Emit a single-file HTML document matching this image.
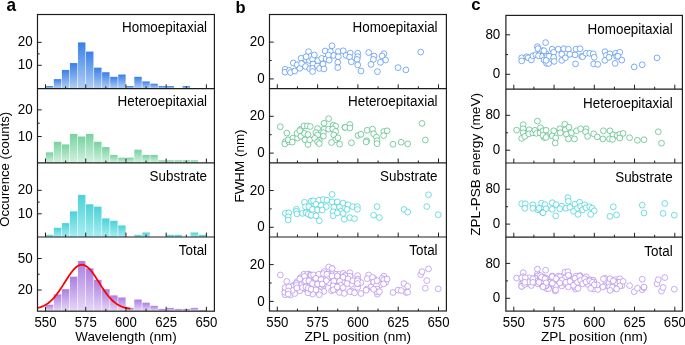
<!DOCTYPE html>
<html><head><meta charset="utf-8"><style>
html,body{margin:0;padding:0;background:#fff;}
body{width:685px;height:345px;overflow:hidden;}
svg{display:block;will-change:transform;}
</style></head><body>
<svg width="685" height="345" viewBox="0 0 685 345" font-family='"Liberation Sans", sans-serif'>
<defs><linearGradient id="g_homo" x1="0" y1="0" x2="0" y2="1"><stop offset="0" stop-color="#3a80e8"/><stop offset="1" stop-color="#b0cdf6"/></linearGradient><linearGradient id="g_hetero" x1="0" y1="0" x2="0" y2="1"><stop offset="0" stop-color="#78d2a0"/><stop offset="1" stop-color="#d2f2e0"/></linearGradient><linearGradient id="g_sub" x1="0" y1="0" x2="0" y2="1"><stop offset="0" stop-color="#4cd2d8"/><stop offset="1" stop-color="#a8eef2"/></linearGradient><linearGradient id="g_total" x1="0" y1="0" x2="0" y2="1"><stop offset="0" stop-color="#ab7ee3"/><stop offset="1" stop-color="#e6d8f7"/></linearGradient></defs>
<rect width="685" height="345" fill="#fff"/>
<rect x="45.80" y="86.00" width="7.45" height="2.30" fill="url(#g_homo)"/>
<rect x="53.84" y="79.12" width="7.45" height="9.18" fill="url(#g_homo)"/>
<rect x="61.89" y="69.94" width="7.44" height="18.36" fill="url(#g_homo)"/>
<rect x="69.93" y="63.05" width="7.45" height="25.24" fill="url(#g_homo)"/>
<rect x="77.98" y="42.40" width="7.44" height="45.90" fill="url(#g_homo)"/>
<rect x="86.02" y="51.58" width="7.45" height="36.72" fill="url(#g_homo)"/>
<rect x="94.07" y="67.64" width="7.45" height="20.66" fill="url(#g_homo)"/>
<rect x="102.11" y="72.23" width="7.45" height="16.06" fill="url(#g_homo)"/>
<rect x="110.16" y="76.83" width="7.45" height="11.47" fill="url(#g_homo)"/>
<rect x="118.20" y="74.53" width="7.45" height="13.77" fill="url(#g_homo)"/>
<rect x="126.25" y="86.00" width="7.45" height="2.30" fill="url(#g_homo)"/>
<rect x="134.30" y="76.83" width="7.44" height="11.47" fill="url(#g_homo)"/>
<rect x="142.34" y="81.41" width="7.44" height="6.89" fill="url(#g_homo)"/>
<rect x="150.38" y="83.71" width="7.45" height="4.59" fill="url(#g_homo)"/>
<rect x="158.43" y="86.00" width="7.45" height="2.30" fill="url(#g_homo)"/>
<rect x="166.48" y="86.00" width="7.44" height="2.30" fill="url(#g_homo)"/>
<rect x="182.56" y="86.00" width="7.45" height="2.30" fill="url(#g_homo)"/>
<rect x="45.80" y="152.34" width="7.45" height="10.56" fill="url(#g_hetero)"/>
<rect x="53.84" y="141.78" width="7.45" height="21.12" fill="url(#g_hetero)"/>
<rect x="61.89" y="144.42" width="7.44" height="18.48" fill="url(#g_hetero)"/>
<rect x="69.93" y="133.86" width="7.45" height="29.04" fill="url(#g_hetero)"/>
<rect x="77.98" y="136.50" width="7.44" height="26.40" fill="url(#g_hetero)"/>
<rect x="86.02" y="133.86" width="7.45" height="29.04" fill="url(#g_hetero)"/>
<rect x="94.07" y="141.78" width="7.45" height="21.12" fill="url(#g_hetero)"/>
<rect x="102.11" y="147.06" width="7.45" height="15.84" fill="url(#g_hetero)"/>
<rect x="110.16" y="154.98" width="7.45" height="7.92" fill="url(#g_hetero)"/>
<rect x="118.20" y="157.62" width="7.45" height="5.28" fill="url(#g_hetero)"/>
<rect x="126.25" y="157.62" width="7.45" height="5.28" fill="url(#g_hetero)"/>
<rect x="134.30" y="149.70" width="7.44" height="13.20" fill="url(#g_hetero)"/>
<rect x="142.34" y="154.98" width="7.44" height="7.92" fill="url(#g_hetero)"/>
<rect x="150.38" y="154.98" width="7.45" height="7.92" fill="url(#g_hetero)"/>
<rect x="158.43" y="160.26" width="7.45" height="2.64" fill="url(#g_hetero)"/>
<rect x="166.48" y="160.26" width="7.44" height="2.64" fill="url(#g_hetero)"/>
<rect x="174.52" y="160.26" width="7.44" height="2.64" fill="url(#g_hetero)"/>
<rect x="182.56" y="160.26" width="7.45" height="2.64" fill="url(#g_hetero)"/>
<rect x="190.61" y="160.26" width="7.44" height="2.64" fill="url(#g_hetero)"/>
<rect x="45.80" y="234.85" width="7.45" height="2.35" fill="url(#g_sub)"/>
<rect x="53.84" y="227.80" width="7.45" height="9.40" fill="url(#g_sub)"/>
<rect x="61.89" y="223.10" width="7.44" height="14.10" fill="url(#g_sub)"/>
<rect x="69.93" y="211.35" width="7.45" height="25.85" fill="url(#g_sub)"/>
<rect x="77.98" y="194.90" width="7.44" height="42.30" fill="url(#g_sub)"/>
<rect x="86.02" y="204.30" width="7.45" height="32.90" fill="url(#g_sub)"/>
<rect x="94.07" y="206.65" width="7.45" height="30.55" fill="url(#g_sub)"/>
<rect x="102.11" y="218.40" width="7.45" height="18.80" fill="url(#g_sub)"/>
<rect x="110.16" y="220.75" width="7.45" height="16.45" fill="url(#g_sub)"/>
<rect x="118.20" y="225.45" width="7.45" height="11.75" fill="url(#g_sub)"/>
<rect x="134.30" y="234.85" width="7.44" height="2.35" fill="url(#g_sub)"/>
<rect x="142.34" y="232.50" width="7.44" height="4.70" fill="url(#g_sub)"/>
<rect x="166.48" y="234.85" width="7.44" height="2.35" fill="url(#g_sub)"/>
<rect x="174.52" y="234.85" width="7.44" height="2.35" fill="url(#g_sub)"/>
<rect x="190.61" y="232.50" width="7.44" height="4.70" fill="url(#g_sub)"/>
<rect x="198.66" y="234.85" width="7.45" height="2.35" fill="url(#g_sub)"/>
<rect x="45.80" y="304.76" width="7.45" height="6.24" fill="url(#g_total)"/>
<rect x="53.84" y="294.36" width="7.45" height="16.64" fill="url(#g_total)"/>
<rect x="61.89" y="289.16" width="7.44" height="21.84" fill="url(#g_total)"/>
<rect x="69.93" y="276.68" width="7.45" height="34.32" fill="url(#g_total)"/>
<rect x="77.98" y="261.08" width="7.44" height="49.92" fill="url(#g_total)"/>
<rect x="86.02" y="268.36" width="7.45" height="42.64" fill="url(#g_total)"/>
<rect x="94.07" y="279.80" width="7.45" height="31.20" fill="url(#g_total)"/>
<rect x="102.11" y="289.16" width="7.45" height="21.84" fill="url(#g_total)"/>
<rect x="110.16" y="295.40" width="7.45" height="15.60" fill="url(#g_total)"/>
<rect x="118.20" y="297.48" width="7.45" height="13.52" fill="url(#g_total)"/>
<rect x="126.25" y="307.88" width="7.45" height="3.12" fill="url(#g_total)"/>
<rect x="134.30" y="299.56" width="7.44" height="11.44" fill="url(#g_total)"/>
<rect x="142.34" y="302.68" width="7.44" height="8.32" fill="url(#g_total)"/>
<rect x="150.38" y="305.80" width="7.45" height="5.20" fill="url(#g_total)"/>
<rect x="158.43" y="308.92" width="7.45" height="2.08" fill="url(#g_total)"/>
<rect x="166.48" y="307.88" width="7.44" height="3.12" fill="url(#g_total)"/>
<rect x="174.52" y="308.92" width="7.44" height="2.08" fill="url(#g_total)"/>
<rect x="182.56" y="308.92" width="7.45" height="2.08" fill="url(#g_total)"/>
<rect x="190.61" y="307.88" width="7.44" height="3.12" fill="url(#g_total)"/>
<rect x="198.66" y="309.96" width="7.45" height="1.04" fill="url(#g_total)"/>
<polyline points="37.13,308.00 37.94,307.82 38.74,307.61 39.55,307.38 40.35,307.13 41.16,306.85 41.96,306.54 42.76,306.21 43.57,305.84 44.37,305.45 45.18,305.02 45.98,304.55 46.79,304.04 47.59,303.50 48.40,302.92 49.20,302.29 50.01,301.63 50.81,300.92 51.61,300.16 52.42,299.36 53.22,298.52 54.03,297.63 54.83,296.70 55.64,295.73 56.44,294.72 57.25,293.66 58.05,292.57 58.85,291.44 59.66,290.28 60.46,289.09 61.27,287.87 62.07,286.63 62.88,285.37 63.68,284.10 64.49,282.83 65.29,281.55 66.10,280.27 66.90,279.01 67.70,277.76 68.51,276.53 69.31,275.33 70.12,274.16 70.92,273.04 71.73,271.96 72.53,270.94 73.34,269.97 74.14,269.08 74.94,268.25 75.75,267.50 76.55,266.84 77.36,266.25 78.16,265.76 78.97,265.36 79.77,265.06 80.58,264.85 81.38,264.74 82.19,264.73 82.99,264.82 83.79,265.01 84.60,265.29 85.40,265.67 86.21,266.15 87.01,266.71 87.82,267.36 88.62,268.10 89.43,268.91 90.23,269.79 91.03,270.74 91.84,271.75 92.64,272.82 93.45,273.93 94.25,275.09 95.06,276.28 95.86,277.51 96.67,278.75 97.47,280.02 98.28,281.29 99.08,282.57 99.88,283.85 100.69,285.12 101.49,286.38 102.30,287.62 103.10,288.84 103.91,290.04 104.71,291.21 105.52,292.34 106.32,293.44 107.12,294.51 107.93,295.53 108.73,296.51 109.54,297.45 110.34,298.35 111.15,299.20 111.95,300.01 112.76,300.77 113.56,301.49 114.37,302.16 115.17,302.80 115.97,303.39 116.78,303.94 117.58,304.45 118.39,304.93 119.19,305.36 120.00,305.77 120.80,306.14 121.61,306.48 122.41,306.79 123.21,307.07 124.02,307.33 124.82,307.57 125.63,307.78 126.43,307.97 127.24,308.14 128.04,308.30 128.85,308.43 129.65,308.56 130.46,308.67" fill="none" stroke="#f00" stroke-width="1.8" stroke-linejoin="round"/>
<circle cx="285.20" cy="69.30" r="2.9" fill="#fff" stroke="#4c8df0" stroke-width="0.72"/>
<circle cx="285.00" cy="72.20" r="2.9" fill="#fff" stroke="#4c8df0" stroke-width="0.72"/>
<circle cx="289.40" cy="70.40" r="2.9" fill="#fff" stroke="#4c8df0" stroke-width="0.72"/>
<circle cx="290.50" cy="72.50" r="2.9" fill="#fff" stroke="#4c8df0" stroke-width="0.72"/>
<circle cx="294.80" cy="71.00" r="2.9" fill="#fff" stroke="#4c8df0" stroke-width="0.72"/>
<circle cx="293.30" cy="63.00" r="2.9" fill="#fff" stroke="#4c8df0" stroke-width="0.72"/>
<circle cx="297.20" cy="64.80" r="2.9" fill="#fff" stroke="#4c8df0" stroke-width="0.72"/>
<circle cx="299.80" cy="68.30" r="2.9" fill="#fff" stroke="#4c8df0" stroke-width="0.72"/>
<circle cx="301.10" cy="58.30" r="2.9" fill="#fff" stroke="#4c8df0" stroke-width="0.72"/>
<circle cx="301.60" cy="63.50" r="2.9" fill="#fff" stroke="#4c8df0" stroke-width="0.72"/>
<circle cx="305.50" cy="66.50" r="2.9" fill="#fff" stroke="#4c8df0" stroke-width="0.72"/>
<circle cx="305.90" cy="59.60" r="2.9" fill="#fff" stroke="#4c8df0" stroke-width="0.72"/>
<circle cx="308.50" cy="51.70" r="2.9" fill="#fff" stroke="#4c8df0" stroke-width="0.72"/>
<circle cx="309.40" cy="60.40" r="2.9" fill="#fff" stroke="#4c8df0" stroke-width="0.72"/>
<circle cx="309.80" cy="68.70" r="2.9" fill="#fff" stroke="#4c8df0" stroke-width="0.72"/>
<circle cx="310.30" cy="56.50" r="2.9" fill="#fff" stroke="#4c8df0" stroke-width="0.72"/>
<circle cx="306.10" cy="56.70" r="2.9" fill="#fff" stroke="#4c8df0" stroke-width="0.72"/>
<circle cx="312.60" cy="59.30" r="2.9" fill="#fff" stroke="#4c8df0" stroke-width="0.72"/>
<circle cx="314.30" cy="55.00" r="2.9" fill="#fff" stroke="#4c8df0" stroke-width="0.72"/>
<circle cx="313.00" cy="64.10" r="2.9" fill="#fff" stroke="#4c8df0" stroke-width="0.72"/>
<circle cx="312.60" cy="68.40" r="2.9" fill="#fff" stroke="#4c8df0" stroke-width="0.72"/>
<circle cx="312.60" cy="71.50" r="2.9" fill="#fff" stroke="#4c8df0" stroke-width="0.72"/>
<circle cx="317.40" cy="65.80" r="2.9" fill="#fff" stroke="#4c8df0" stroke-width="0.72"/>
<circle cx="317.80" cy="60.60" r="2.9" fill="#fff" stroke="#4c8df0" stroke-width="0.72"/>
<circle cx="319.60" cy="68.40" r="2.9" fill="#fff" stroke="#4c8df0" stroke-width="0.72"/>
<circle cx="321.70" cy="58.40" r="2.9" fill="#fff" stroke="#4c8df0" stroke-width="0.72"/>
<circle cx="323.00" cy="64.10" r="2.9" fill="#fff" stroke="#4c8df0" stroke-width="0.72"/>
<circle cx="323.90" cy="68.90" r="2.9" fill="#fff" stroke="#4c8df0" stroke-width="0.72"/>
<circle cx="325.20" cy="51.00" r="2.9" fill="#fff" stroke="#4c8df0" stroke-width="0.72"/>
<circle cx="326.10" cy="58.90" r="2.9" fill="#fff" stroke="#4c8df0" stroke-width="0.72"/>
<circle cx="329.10" cy="60.20" r="2.9" fill="#fff" stroke="#4c8df0" stroke-width="0.72"/>
<circle cx="330.40" cy="51.50" r="2.9" fill="#fff" stroke="#4c8df0" stroke-width="0.72"/>
<circle cx="333.50" cy="55.40" r="2.9" fill="#fff" stroke="#4c8df0" stroke-width="0.72"/>
<circle cx="338.30" cy="51.50" r="2.9" fill="#fff" stroke="#4c8df0" stroke-width="0.72"/>
<circle cx="338.30" cy="56.70" r="2.9" fill="#fff" stroke="#4c8df0" stroke-width="0.72"/>
<circle cx="337.80" cy="62.30" r="2.9" fill="#fff" stroke="#4c8df0" stroke-width="0.72"/>
<circle cx="337.80" cy="67.60" r="2.9" fill="#fff" stroke="#4c8df0" stroke-width="0.72"/>
<circle cx="328.30" cy="55.00" r="2.9" fill="#fff" stroke="#4c8df0" stroke-width="0.72"/>
<circle cx="332.00" cy="45.80" r="2.9" fill="#fff" stroke="#4c8df0" stroke-width="0.72"/>
<circle cx="343.20" cy="50.80" r="2.9" fill="#fff" stroke="#4c8df0" stroke-width="0.72"/>
<circle cx="346.10" cy="55.40" r="2.9" fill="#fff" stroke="#4c8df0" stroke-width="0.72"/>
<circle cx="350.20" cy="53.10" r="2.9" fill="#fff" stroke="#4c8df0" stroke-width="0.72"/>
<circle cx="349.60" cy="57.10" r="2.9" fill="#fff" stroke="#4c8df0" stroke-width="0.72"/>
<circle cx="351.30" cy="61.80" r="2.9" fill="#fff" stroke="#4c8df0" stroke-width="0.72"/>
<circle cx="357.70" cy="53.10" r="2.9" fill="#fff" stroke="#4c8df0" stroke-width="0.72"/>
<circle cx="357.70" cy="56.60" r="2.9" fill="#fff" stroke="#4c8df0" stroke-width="0.72"/>
<circle cx="357.10" cy="59.40" r="2.9" fill="#fff" stroke="#4c8df0" stroke-width="0.72"/>
<circle cx="357.70" cy="64.90" r="2.9" fill="#fff" stroke="#4c8df0" stroke-width="0.72"/>
<circle cx="361.00" cy="71.00" r="2.9" fill="#fff" stroke="#4c8df0" stroke-width="0.72"/>
<circle cx="368.70" cy="52.50" r="2.9" fill="#fff" stroke="#4c8df0" stroke-width="0.72"/>
<circle cx="374.00" cy="56.00" r="2.9" fill="#fff" stroke="#4c8df0" stroke-width="0.72"/>
<circle cx="373.40" cy="59.40" r="2.9" fill="#fff" stroke="#4c8df0" stroke-width="0.72"/>
<circle cx="371.00" cy="64.40" r="2.9" fill="#fff" stroke="#4c8df0" stroke-width="0.72"/>
<circle cx="377.40" cy="71.60" r="2.9" fill="#fff" stroke="#4c8df0" stroke-width="0.72"/>
<circle cx="383.90" cy="53.70" r="2.9" fill="#fff" stroke="#4c8df0" stroke-width="0.72"/>
<circle cx="382.10" cy="56.00" r="2.9" fill="#fff" stroke="#4c8df0" stroke-width="0.72"/>
<circle cx="385.60" cy="60.00" r="2.9" fill="#fff" stroke="#4c8df0" stroke-width="0.72"/>
<circle cx="380.40" cy="62.30" r="2.9" fill="#fff" stroke="#4c8df0" stroke-width="0.72"/>
<circle cx="398.00" cy="67.60" r="2.9" fill="#fff" stroke="#4c8df0" stroke-width="0.72"/>
<circle cx="405.90" cy="69.90" r="2.9" fill="#fff" stroke="#4c8df0" stroke-width="0.72"/>
<circle cx="420.70" cy="52.10" r="2.9" fill="#fff" stroke="#4c8df0" stroke-width="0.72"/>
<circle cx="521.70" cy="57.80" r="2.9" fill="#fff" stroke="#4c8df0" stroke-width="0.72"/>
<circle cx="521.70" cy="60.90" r="2.9" fill="#fff" stroke="#4c8df0" stroke-width="0.72"/>
<circle cx="526.80" cy="56.80" r="2.9" fill="#fff" stroke="#4c8df0" stroke-width="0.72"/>
<circle cx="528.30" cy="57.80" r="2.9" fill="#fff" stroke="#4c8df0" stroke-width="0.72"/>
<circle cx="531.40" cy="59.90" r="2.9" fill="#fff" stroke="#4c8df0" stroke-width="0.72"/>
<circle cx="532.90" cy="55.80" r="2.9" fill="#fff" stroke="#4c8df0" stroke-width="0.72"/>
<circle cx="535.90" cy="54.80" r="2.9" fill="#fff" stroke="#4c8df0" stroke-width="0.72"/>
<circle cx="537.40" cy="46.70" r="2.9" fill="#fff" stroke="#4c8df0" stroke-width="0.72"/>
<circle cx="538.00" cy="48.70" r="2.9" fill="#fff" stroke="#4c8df0" stroke-width="0.72"/>
<circle cx="538.50" cy="55.80" r="2.9" fill="#fff" stroke="#4c8df0" stroke-width="0.72"/>
<circle cx="542.50" cy="50.70" r="2.9" fill="#fff" stroke="#4c8df0" stroke-width="0.72"/>
<circle cx="542.50" cy="56.30" r="2.9" fill="#fff" stroke="#4c8df0" stroke-width="0.72"/>
<circle cx="544.00" cy="59.90" r="2.9" fill="#fff" stroke="#4c8df0" stroke-width="0.72"/>
<circle cx="545.60" cy="42.60" r="2.9" fill="#fff" stroke="#4c8df0" stroke-width="0.72"/>
<circle cx="546.10" cy="53.80" r="2.9" fill="#fff" stroke="#4c8df0" stroke-width="0.72"/>
<circle cx="546.60" cy="63.40" r="2.9" fill="#fff" stroke="#4c8df0" stroke-width="0.72"/>
<circle cx="547.10" cy="56.30" r="2.9" fill="#fff" stroke="#4c8df0" stroke-width="0.72"/>
<circle cx="544.00" cy="50.70" r="2.9" fill="#fff" stroke="#4c8df0" stroke-width="0.72"/>
<circle cx="549.10" cy="56.30" r="2.9" fill="#fff" stroke="#4c8df0" stroke-width="0.72"/>
<circle cx="548.60" cy="63.40" r="2.9" fill="#fff" stroke="#4c8df0" stroke-width="0.72"/>
<circle cx="546.10" cy="60.40" r="2.9" fill="#fff" stroke="#4c8df0" stroke-width="0.72"/>
<circle cx="552.20" cy="49.20" r="2.9" fill="#fff" stroke="#4c8df0" stroke-width="0.72"/>
<circle cx="553.70" cy="52.20" r="2.9" fill="#fff" stroke="#4c8df0" stroke-width="0.72"/>
<circle cx="553.70" cy="57.30" r="2.9" fill="#fff" stroke="#4c8df0" stroke-width="0.72"/>
<circle cx="554.20" cy="61.40" r="2.9" fill="#fff" stroke="#4c8df0" stroke-width="0.72"/>
<circle cx="558.20" cy="49.20" r="2.9" fill="#fff" stroke="#4c8df0" stroke-width="0.72"/>
<circle cx="561.80" cy="54.30" r="2.9" fill="#fff" stroke="#4c8df0" stroke-width="0.72"/>
<circle cx="561.80" cy="60.40" r="2.9" fill="#fff" stroke="#4c8df0" stroke-width="0.72"/>
<circle cx="563.80" cy="48.70" r="2.9" fill="#fff" stroke="#4c8df0" stroke-width="0.72"/>
<circle cx="565.40" cy="57.80" r="2.9" fill="#fff" stroke="#4c8df0" stroke-width="0.72"/>
<circle cx="568.40" cy="49.20" r="2.9" fill="#fff" stroke="#4c8df0" stroke-width="0.72"/>
<circle cx="569.90" cy="54.30" r="2.9" fill="#fff" stroke="#4c8df0" stroke-width="0.72"/>
<circle cx="575.00" cy="54.80" r="2.9" fill="#fff" stroke="#4c8df0" stroke-width="0.72"/>
<circle cx="576.00" cy="49.20" r="2.9" fill="#fff" stroke="#4c8df0" stroke-width="0.72"/>
<circle cx="575.50" cy="63.90" r="2.9" fill="#fff" stroke="#4c8df0" stroke-width="0.72"/>
<circle cx="580.10" cy="48.70" r="2.9" fill="#fff" stroke="#4c8df0" stroke-width="0.72"/>
<circle cx="581.60" cy="56.30" r="2.9" fill="#fff" stroke="#4c8df0" stroke-width="0.72"/>
<circle cx="582.60" cy="56.80" r="2.9" fill="#fff" stroke="#4c8df0" stroke-width="0.72"/>
<circle cx="586.10" cy="53.30" r="2.9" fill="#fff" stroke="#4c8df0" stroke-width="0.72"/>
<circle cx="589.70" cy="53.30" r="2.9" fill="#fff" stroke="#4c8df0" stroke-width="0.72"/>
<circle cx="593.20" cy="53.80" r="2.9" fill="#fff" stroke="#4c8df0" stroke-width="0.72"/>
<circle cx="594.20" cy="57.30" r="2.9" fill="#fff" stroke="#4c8df0" stroke-width="0.72"/>
<circle cx="593.70" cy="63.90" r="2.9" fill="#fff" stroke="#4c8df0" stroke-width="0.72"/>
<circle cx="597.80" cy="64.40" r="2.9" fill="#fff" stroke="#4c8df0" stroke-width="0.72"/>
<circle cx="604.90" cy="51.70" r="2.9" fill="#fff" stroke="#4c8df0" stroke-width="0.72"/>
<circle cx="606.40" cy="55.30" r="2.9" fill="#fff" stroke="#4c8df0" stroke-width="0.72"/>
<circle cx="604.90" cy="60.40" r="2.9" fill="#fff" stroke="#4c8df0" stroke-width="0.72"/>
<circle cx="610.00" cy="53.80" r="2.9" fill="#fff" stroke="#4c8df0" stroke-width="0.72"/>
<circle cx="609.00" cy="57.30" r="2.9" fill="#fff" stroke="#4c8df0" stroke-width="0.72"/>
<circle cx="615.60" cy="53.30" r="2.9" fill="#fff" stroke="#4c8df0" stroke-width="0.72"/>
<circle cx="616.60" cy="56.30" r="2.9" fill="#fff" stroke="#4c8df0" stroke-width="0.72"/>
<circle cx="615.10" cy="63.40" r="2.9" fill="#fff" stroke="#4c8df0" stroke-width="0.72"/>
<circle cx="619.80" cy="52.30" r="2.9" fill="#fff" stroke="#4c8df0" stroke-width="0.72"/>
<circle cx="617.90" cy="56.20" r="2.9" fill="#fff" stroke="#4c8df0" stroke-width="0.72"/>
<circle cx="621.80" cy="60.10" r="2.9" fill="#fff" stroke="#4c8df0" stroke-width="0.72"/>
<circle cx="634.20" cy="66.90" r="2.9" fill="#fff" stroke="#4c8df0" stroke-width="0.72"/>
<circle cx="642.20" cy="64.70" r="2.9" fill="#fff" stroke="#4c8df0" stroke-width="0.72"/>
<circle cx="657.00" cy="57.90" r="2.9" fill="#fff" stroke="#4c8df0" stroke-width="0.72"/>
<circle cx="280.30" cy="126.70" r="2.9" fill="#fff" stroke="#4dba80" stroke-width="0.72"/>
<circle cx="286.80" cy="133.10" r="2.9" fill="#fff" stroke="#4dba80" stroke-width="0.72"/>
<circle cx="285.30" cy="141.60" r="2.9" fill="#fff" stroke="#4dba80" stroke-width="0.72"/>
<circle cx="284.80" cy="143.90" r="2.9" fill="#fff" stroke="#4dba80" stroke-width="0.72"/>
<circle cx="288.80" cy="141.60" r="2.9" fill="#fff" stroke="#4dba80" stroke-width="0.72"/>
<circle cx="288.20" cy="139.80" r="2.9" fill="#fff" stroke="#4dba80" stroke-width="0.72"/>
<circle cx="292.90" cy="138.10" r="2.9" fill="#fff" stroke="#4dba80" stroke-width="0.72"/>
<circle cx="292.30" cy="142.10" r="2.9" fill="#fff" stroke="#4dba80" stroke-width="0.72"/>
<circle cx="297.50" cy="138.10" r="2.9" fill="#fff" stroke="#4dba80" stroke-width="0.72"/>
<circle cx="297.00" cy="133.40" r="2.9" fill="#fff" stroke="#4dba80" stroke-width="0.72"/>
<circle cx="300.40" cy="129.40" r="2.9" fill="#fff" stroke="#4dba80" stroke-width="0.72"/>
<circle cx="301.00" cy="136.30" r="2.9" fill="#fff" stroke="#4dba80" stroke-width="0.72"/>
<circle cx="303.90" cy="125.90" r="2.9" fill="#fff" stroke="#4dba80" stroke-width="0.72"/>
<circle cx="304.50" cy="133.40" r="2.9" fill="#fff" stroke="#4dba80" stroke-width="0.72"/>
<circle cx="305.00" cy="139.80" r="2.9" fill="#fff" stroke="#4dba80" stroke-width="0.72"/>
<circle cx="307.40" cy="125.90" r="2.9" fill="#fff" stroke="#4dba80" stroke-width="0.72"/>
<circle cx="308.00" cy="134.60" r="2.9" fill="#fff" stroke="#4dba80" stroke-width="0.72"/>
<circle cx="308.00" cy="144.50" r="2.9" fill="#fff" stroke="#4dba80" stroke-width="0.72"/>
<circle cx="310.30" cy="126.50" r="2.9" fill="#fff" stroke="#4dba80" stroke-width="0.72"/>
<circle cx="309.70" cy="139.80" r="2.9" fill="#fff" stroke="#4dba80" stroke-width="0.72"/>
<circle cx="299.80" cy="130.60" r="2.9" fill="#fff" stroke="#4dba80" stroke-width="0.72"/>
<circle cx="328.60" cy="118.70" r="2.9" fill="#fff" stroke="#4dba80" stroke-width="0.72"/>
<circle cx="324.00" cy="123.30" r="2.9" fill="#fff" stroke="#4dba80" stroke-width="0.72"/>
<circle cx="333.20" cy="125.10" r="2.9" fill="#fff" stroke="#4dba80" stroke-width="0.72"/>
<circle cx="335.60" cy="126.20" r="2.9" fill="#fff" stroke="#4dba80" stroke-width="0.72"/>
<circle cx="317.60" cy="128.60" r="2.9" fill="#fff" stroke="#4dba80" stroke-width="0.72"/>
<circle cx="324.00" cy="129.10" r="2.9" fill="#fff" stroke="#4dba80" stroke-width="0.72"/>
<circle cx="328.60" cy="129.10" r="2.9" fill="#fff" stroke="#4dba80" stroke-width="0.72"/>
<circle cx="332.70" cy="129.10" r="2.9" fill="#fff" stroke="#4dba80" stroke-width="0.72"/>
<circle cx="315.90" cy="132.60" r="2.9" fill="#fff" stroke="#4dba80" stroke-width="0.72"/>
<circle cx="323.40" cy="132.60" r="2.9" fill="#fff" stroke="#4dba80" stroke-width="0.72"/>
<circle cx="335.60" cy="131.40" r="2.9" fill="#fff" stroke="#4dba80" stroke-width="0.72"/>
<circle cx="317.60" cy="134.90" r="2.9" fill="#fff" stroke="#4dba80" stroke-width="0.72"/>
<circle cx="323.40" cy="136.10" r="2.9" fill="#fff" stroke="#4dba80" stroke-width="0.72"/>
<circle cx="333.80" cy="134.90" r="2.9" fill="#fff" stroke="#4dba80" stroke-width="0.72"/>
<circle cx="314.70" cy="138.40" r="2.9" fill="#fff" stroke="#4dba80" stroke-width="0.72"/>
<circle cx="319.30" cy="140.40" r="2.9" fill="#fff" stroke="#4dba80" stroke-width="0.72"/>
<circle cx="317.60" cy="141.90" r="2.9" fill="#fff" stroke="#4dba80" stroke-width="0.72"/>
<circle cx="335.60" cy="139.60" r="2.9" fill="#fff" stroke="#4dba80" stroke-width="0.72"/>
<circle cx="331.50" cy="142.50" r="2.9" fill="#fff" stroke="#4dba80" stroke-width="0.72"/>
<circle cx="337.90" cy="137.80" r="2.9" fill="#fff" stroke="#4dba80" stroke-width="0.72"/>
<circle cx="339.60" cy="144.20" r="2.9" fill="#fff" stroke="#4dba80" stroke-width="0.72"/>
<circle cx="319.30" cy="143.60" r="2.9" fill="#fff" stroke="#4dba80" stroke-width="0.72"/>
<circle cx="344.80" cy="127.40" r="2.9" fill="#fff" stroke="#4dba80" stroke-width="0.72"/>
<circle cx="349.90" cy="124.50" r="2.9" fill="#fff" stroke="#4dba80" stroke-width="0.72"/>
<circle cx="345.20" cy="127.40" r="2.9" fill="#fff" stroke="#4dba80" stroke-width="0.72"/>
<circle cx="349.90" cy="128.00" r="2.9" fill="#fff" stroke="#4dba80" stroke-width="0.72"/>
<circle cx="367.20" cy="130.30" r="2.9" fill="#fff" stroke="#4dba80" stroke-width="0.72"/>
<circle cx="372.50" cy="129.10" r="2.9" fill="#fff" stroke="#4dba80" stroke-width="0.72"/>
<circle cx="373.60" cy="133.80" r="2.9" fill="#fff" stroke="#4dba80" stroke-width="0.72"/>
<circle cx="358.00" cy="135.50" r="2.9" fill="#fff" stroke="#4dba80" stroke-width="0.72"/>
<circle cx="360.90" cy="134.30" r="2.9" fill="#fff" stroke="#4dba80" stroke-width="0.72"/>
<circle cx="376.50" cy="137.20" r="2.9" fill="#fff" stroke="#4dba80" stroke-width="0.72"/>
<circle cx="377.10" cy="140.70" r="2.9" fill="#fff" stroke="#4dba80" stroke-width="0.72"/>
<circle cx="377.10" cy="143.60" r="2.9" fill="#fff" stroke="#4dba80" stroke-width="0.72"/>
<circle cx="366.70" cy="140.70" r="2.9" fill="#fff" stroke="#4dba80" stroke-width="0.72"/>
<circle cx="366.10" cy="141.90" r="2.9" fill="#fff" stroke="#4dba80" stroke-width="0.72"/>
<circle cx="351.40" cy="142.80" r="2.9" fill="#fff" stroke="#4dba80" stroke-width="0.72"/>
<circle cx="383.80" cy="131.50" r="2.9" fill="#fff" stroke="#4dba80" stroke-width="0.72"/>
<circle cx="387.10" cy="130.80" r="2.9" fill="#fff" stroke="#4dba80" stroke-width="0.72"/>
<circle cx="383.60" cy="135.60" r="2.9" fill="#fff" stroke="#4dba80" stroke-width="0.72"/>
<circle cx="393.00" cy="144.20" r="2.9" fill="#fff" stroke="#4dba80" stroke-width="0.72"/>
<circle cx="401.20" cy="142.20" r="2.9" fill="#fff" stroke="#4dba80" stroke-width="0.72"/>
<circle cx="407.70" cy="143.90" r="2.9" fill="#fff" stroke="#4dba80" stroke-width="0.72"/>
<circle cx="422.00" cy="123.40" r="2.9" fill="#fff" stroke="#4dba80" stroke-width="0.72"/>
<circle cx="425.30" cy="140.00" r="2.9" fill="#fff" stroke="#4dba80" stroke-width="0.72"/>
<circle cx="516.60" cy="130.10" r="2.9" fill="#fff" stroke="#4dba80" stroke-width="0.72"/>
<circle cx="523.20" cy="124.70" r="2.9" fill="#fff" stroke="#4dba80" stroke-width="0.72"/>
<circle cx="523.20" cy="128.80" r="2.9" fill="#fff" stroke="#4dba80" stroke-width="0.72"/>
<circle cx="523.20" cy="132.80" r="2.9" fill="#fff" stroke="#4dba80" stroke-width="0.72"/>
<circle cx="521.70" cy="138.40" r="2.9" fill="#fff" stroke="#4dba80" stroke-width="0.72"/>
<circle cx="524.80" cy="136.40" r="2.9" fill="#fff" stroke="#4dba80" stroke-width="0.72"/>
<circle cx="529.30" cy="129.80" r="2.9" fill="#fff" stroke="#4dba80" stroke-width="0.72"/>
<circle cx="528.80" cy="133.80" r="2.9" fill="#fff" stroke="#4dba80" stroke-width="0.72"/>
<circle cx="532.90" cy="132.80" r="2.9" fill="#fff" stroke="#4dba80" stroke-width="0.72"/>
<circle cx="534.90" cy="130.30" r="2.9" fill="#fff" stroke="#4dba80" stroke-width="0.72"/>
<circle cx="537.40" cy="121.10" r="2.9" fill="#fff" stroke="#4dba80" stroke-width="0.72"/>
<circle cx="536.40" cy="133.30" r="2.9" fill="#fff" stroke="#4dba80" stroke-width="0.72"/>
<circle cx="540.50" cy="127.70" r="2.9" fill="#fff" stroke="#4dba80" stroke-width="0.72"/>
<circle cx="540.00" cy="132.80" r="2.9" fill="#fff" stroke="#4dba80" stroke-width="0.72"/>
<circle cx="543.00" cy="130.80" r="2.9" fill="#fff" stroke="#4dba80" stroke-width="0.72"/>
<circle cx="544.00" cy="137.40" r="2.9" fill="#fff" stroke="#4dba80" stroke-width="0.72"/>
<circle cx="546.10" cy="130.30" r="2.9" fill="#fff" stroke="#4dba80" stroke-width="0.72"/>
<circle cx="546.60" cy="135.90" r="2.9" fill="#fff" stroke="#4dba80" stroke-width="0.72"/>
<circle cx="543.00" cy="135.40" r="2.9" fill="#fff" stroke="#4dba80" stroke-width="0.72"/>
<circle cx="546.10" cy="137.40" r="2.9" fill="#fff" stroke="#4dba80" stroke-width="0.72"/>
<circle cx="553.70" cy="130.80" r="2.9" fill="#fff" stroke="#4dba80" stroke-width="0.72"/>
<circle cx="552.20" cy="135.90" r="2.9" fill="#fff" stroke="#4dba80" stroke-width="0.72"/>
<circle cx="555.70" cy="137.90" r="2.9" fill="#fff" stroke="#4dba80" stroke-width="0.72"/>
<circle cx="555.20" cy="143.00" r="2.9" fill="#fff" stroke="#4dba80" stroke-width="0.72"/>
<circle cx="559.80" cy="128.80" r="2.9" fill="#fff" stroke="#4dba80" stroke-width="0.72"/>
<circle cx="560.30" cy="132.80" r="2.9" fill="#fff" stroke="#4dba80" stroke-width="0.72"/>
<circle cx="564.80" cy="124.20" r="2.9" fill="#fff" stroke="#4dba80" stroke-width="0.72"/>
<circle cx="565.40" cy="129.80" r="2.9" fill="#fff" stroke="#4dba80" stroke-width="0.72"/>
<circle cx="566.40" cy="134.30" r="2.9" fill="#fff" stroke="#4dba80" stroke-width="0.72"/>
<circle cx="568.90" cy="127.20" r="2.9" fill="#fff" stroke="#4dba80" stroke-width="0.72"/>
<circle cx="571.40" cy="132.80" r="2.9" fill="#fff" stroke="#4dba80" stroke-width="0.72"/>
<circle cx="568.40" cy="138.90" r="2.9" fill="#fff" stroke="#4dba80" stroke-width="0.72"/>
<circle cx="574.50" cy="138.90" r="2.9" fill="#fff" stroke="#4dba80" stroke-width="0.72"/>
<circle cx="576.50" cy="130.80" r="2.9" fill="#fff" stroke="#4dba80" stroke-width="0.72"/>
<circle cx="580.60" cy="128.80" r="2.9" fill="#fff" stroke="#4dba80" stroke-width="0.72"/>
<circle cx="586.10" cy="128.80" r="2.9" fill="#fff" stroke="#4dba80" stroke-width="0.72"/>
<circle cx="585.60" cy="131.80" r="2.9" fill="#fff" stroke="#4dba80" stroke-width="0.72"/>
<circle cx="587.60" cy="136.40" r="2.9" fill="#fff" stroke="#4dba80" stroke-width="0.72"/>
<circle cx="593.70" cy="133.80" r="2.9" fill="#fff" stroke="#4dba80" stroke-width="0.72"/>
<circle cx="597.30" cy="136.90" r="2.9" fill="#fff" stroke="#4dba80" stroke-width="0.72"/>
<circle cx="603.40" cy="130.80" r="2.9" fill="#fff" stroke="#4dba80" stroke-width="0.72"/>
<circle cx="602.90" cy="138.90" r="2.9" fill="#fff" stroke="#4dba80" stroke-width="0.72"/>
<circle cx="610.00" cy="130.80" r="2.9" fill="#fff" stroke="#4dba80" stroke-width="0.72"/>
<circle cx="613.00" cy="134.80" r="2.9" fill="#fff" stroke="#4dba80" stroke-width="0.72"/>
<circle cx="609.50" cy="138.90" r="2.9" fill="#fff" stroke="#4dba80" stroke-width="0.72"/>
<circle cx="612.50" cy="139.40" r="2.9" fill="#fff" stroke="#4dba80" stroke-width="0.72"/>
<circle cx="617.10" cy="135.40" r="2.9" fill="#fff" stroke="#4dba80" stroke-width="0.72"/>
<circle cx="619.80" cy="134.10" r="2.9" fill="#fff" stroke="#4dba80" stroke-width="0.72"/>
<circle cx="623.10" cy="133.40" r="2.9" fill="#fff" stroke="#4dba80" stroke-width="0.72"/>
<circle cx="619.80" cy="138.00" r="2.9" fill="#fff" stroke="#4dba80" stroke-width="0.72"/>
<circle cx="629.60" cy="137.70" r="2.9" fill="#fff" stroke="#4dba80" stroke-width="0.72"/>
<circle cx="637.40" cy="140.30" r="2.9" fill="#fff" stroke="#4dba80" stroke-width="0.72"/>
<circle cx="644.00" cy="139.70" r="2.9" fill="#fff" stroke="#4dba80" stroke-width="0.72"/>
<circle cx="658.30" cy="131.70" r="2.9" fill="#fff" stroke="#4dba80" stroke-width="0.72"/>
<circle cx="661.50" cy="143.20" r="2.9" fill="#fff" stroke="#4dba80" stroke-width="0.72"/>
<circle cx="285.20" cy="213.40" r="2.9" fill="#fff" stroke="#3ccfd6" stroke-width="0.72"/>
<circle cx="288.80" cy="212.80" r="2.9" fill="#fff" stroke="#3ccfd6" stroke-width="0.72"/>
<circle cx="288.20" cy="216.90" r="2.9" fill="#fff" stroke="#3ccfd6" stroke-width="0.72"/>
<circle cx="288.20" cy="220.00" r="2.9" fill="#fff" stroke="#3ccfd6" stroke-width="0.72"/>
<circle cx="296.40" cy="209.30" r="2.9" fill="#fff" stroke="#3ccfd6" stroke-width="0.72"/>
<circle cx="296.40" cy="211.30" r="2.9" fill="#fff" stroke="#3ccfd6" stroke-width="0.72"/>
<circle cx="296.90" cy="213.90" r="2.9" fill="#fff" stroke="#3ccfd6" stroke-width="0.72"/>
<circle cx="302.50" cy="213.40" r="2.9" fill="#fff" stroke="#3ccfd6" stroke-width="0.72"/>
<circle cx="304.50" cy="202.20" r="2.9" fill="#fff" stroke="#3ccfd6" stroke-width="0.72"/>
<circle cx="305.50" cy="206.80" r="2.9" fill="#fff" stroke="#3ccfd6" stroke-width="0.72"/>
<circle cx="306.00" cy="212.80" r="2.9" fill="#fff" stroke="#3ccfd6" stroke-width="0.72"/>
<circle cx="309.60" cy="207.30" r="2.9" fill="#fff" stroke="#3ccfd6" stroke-width="0.72"/>
<circle cx="310.60" cy="215.40" r="2.9" fill="#fff" stroke="#3ccfd6" stroke-width="0.72"/>
<circle cx="311.10" cy="201.20" r="2.9" fill="#fff" stroke="#3ccfd6" stroke-width="0.72"/>
<circle cx="332.10" cy="194.40" r="2.9" fill="#fff" stroke="#3ccfd6" stroke-width="0.72"/>
<circle cx="313.50" cy="200.80" r="2.9" fill="#fff" stroke="#3ccfd6" stroke-width="0.72"/>
<circle cx="318.80" cy="200.20" r="2.9" fill="#fff" stroke="#3ccfd6" stroke-width="0.72"/>
<circle cx="323.40" cy="199.60" r="2.9" fill="#fff" stroke="#3ccfd6" stroke-width="0.72"/>
<circle cx="326.90" cy="200.20" r="2.9" fill="#fff" stroke="#3ccfd6" stroke-width="0.72"/>
<circle cx="332.10" cy="201.90" r="2.9" fill="#fff" stroke="#3ccfd6" stroke-width="0.72"/>
<circle cx="337.30" cy="201.90" r="2.9" fill="#fff" stroke="#3ccfd6" stroke-width="0.72"/>
<circle cx="343.10" cy="203.10" r="2.9" fill="#fff" stroke="#3ccfd6" stroke-width="0.72"/>
<circle cx="315.90" cy="204.20" r="2.9" fill="#fff" stroke="#3ccfd6" stroke-width="0.72"/>
<circle cx="321.10" cy="205.40" r="2.9" fill="#fff" stroke="#3ccfd6" stroke-width="0.72"/>
<circle cx="308.90" cy="206.60" r="2.9" fill="#fff" stroke="#3ccfd6" stroke-width="0.72"/>
<circle cx="326.30" cy="206.60" r="2.9" fill="#fff" stroke="#3ccfd6" stroke-width="0.72"/>
<circle cx="333.80" cy="207.10" r="2.9" fill="#fff" stroke="#3ccfd6" stroke-width="0.72"/>
<circle cx="339.60" cy="207.10" r="2.9" fill="#fff" stroke="#3ccfd6" stroke-width="0.72"/>
<circle cx="312.40" cy="209.40" r="2.9" fill="#fff" stroke="#3ccfd6" stroke-width="0.72"/>
<circle cx="317.60" cy="210.00" r="2.9" fill="#fff" stroke="#3ccfd6" stroke-width="0.72"/>
<circle cx="322.20" cy="210.00" r="2.9" fill="#fff" stroke="#3ccfd6" stroke-width="0.72"/>
<circle cx="333.20" cy="211.80" r="2.9" fill="#fff" stroke="#3ccfd6" stroke-width="0.72"/>
<circle cx="340.80" cy="211.20" r="2.9" fill="#fff" stroke="#3ccfd6" stroke-width="0.72"/>
<circle cx="308.30" cy="214.10" r="2.9" fill="#fff" stroke="#3ccfd6" stroke-width="0.72"/>
<circle cx="311.20" cy="215.20" r="2.9" fill="#fff" stroke="#3ccfd6" stroke-width="0.72"/>
<circle cx="315.90" cy="215.80" r="2.9" fill="#fff" stroke="#3ccfd6" stroke-width="0.72"/>
<circle cx="333.20" cy="215.80" r="2.9" fill="#fff" stroke="#3ccfd6" stroke-width="0.72"/>
<circle cx="337.30" cy="212.90" r="2.9" fill="#fff" stroke="#3ccfd6" stroke-width="0.72"/>
<circle cx="343.10" cy="213.50" r="2.9" fill="#fff" stroke="#3ccfd6" stroke-width="0.72"/>
<circle cx="319.30" cy="220.70" r="2.9" fill="#fff" stroke="#3ccfd6" stroke-width="0.72"/>
<circle cx="344.30" cy="219.30" r="2.9" fill="#fff" stroke="#3ccfd6" stroke-width="0.72"/>
<circle cx="348.10" cy="204.80" r="2.9" fill="#fff" stroke="#3ccfd6" stroke-width="0.72"/>
<circle cx="352.80" cy="206.60" r="2.9" fill="#fff" stroke="#3ccfd6" stroke-width="0.72"/>
<circle cx="357.40" cy="206.60" r="2.9" fill="#fff" stroke="#3ccfd6" stroke-width="0.72"/>
<circle cx="357.40" cy="209.40" r="2.9" fill="#fff" stroke="#3ccfd6" stroke-width="0.72"/>
<circle cx="347.00" cy="209.40" r="2.9" fill="#fff" stroke="#3ccfd6" stroke-width="0.72"/>
<circle cx="349.90" cy="217.60" r="2.9" fill="#fff" stroke="#3ccfd6" stroke-width="0.72"/>
<circle cx="354.50" cy="218.70" r="2.9" fill="#fff" stroke="#3ccfd6" stroke-width="0.72"/>
<circle cx="377.10" cy="206.60" r="2.9" fill="#fff" stroke="#3ccfd6" stroke-width="0.72"/>
<circle cx="373.60" cy="215.20" r="2.9" fill="#fff" stroke="#3ccfd6" stroke-width="0.72"/>
<circle cx="379.40" cy="217.60" r="2.9" fill="#fff" stroke="#3ccfd6" stroke-width="0.72"/>
<circle cx="404.00" cy="209.50" r="2.9" fill="#fff" stroke="#3ccfd6" stroke-width="0.72"/>
<circle cx="407.70" cy="212.10" r="2.9" fill="#fff" stroke="#3ccfd6" stroke-width="0.72"/>
<circle cx="428.50" cy="194.80" r="2.9" fill="#fff" stroke="#3ccfd6" stroke-width="0.72"/>
<circle cx="426.80" cy="206.50" r="2.9" fill="#fff" stroke="#3ccfd6" stroke-width="0.72"/>
<circle cx="438.20" cy="214.70" r="2.9" fill="#fff" stroke="#3ccfd6" stroke-width="0.72"/>
<circle cx="521.70" cy="203.70" r="2.9" fill="#fff" stroke="#3ccfd6" stroke-width="0.72"/>
<circle cx="525.30" cy="203.70" r="2.9" fill="#fff" stroke="#3ccfd6" stroke-width="0.72"/>
<circle cx="524.80" cy="208.30" r="2.9" fill="#fff" stroke="#3ccfd6" stroke-width="0.72"/>
<circle cx="532.90" cy="204.70" r="2.9" fill="#fff" stroke="#3ccfd6" stroke-width="0.72"/>
<circle cx="532.90" cy="208.30" r="2.9" fill="#fff" stroke="#3ccfd6" stroke-width="0.72"/>
<circle cx="538.00" cy="209.80" r="2.9" fill="#fff" stroke="#3ccfd6" stroke-width="0.72"/>
<circle cx="541.50" cy="203.20" r="2.9" fill="#fff" stroke="#3ccfd6" stroke-width="0.72"/>
<circle cx="542.50" cy="212.30" r="2.9" fill="#fff" stroke="#3ccfd6" stroke-width="0.72"/>
<circle cx="545.00" cy="204.70" r="2.9" fill="#fff" stroke="#3ccfd6" stroke-width="0.72"/>
<circle cx="546.10" cy="208.80" r="2.9" fill="#fff" stroke="#3ccfd6" stroke-width="0.72"/>
<circle cx="539.00" cy="208.30" r="2.9" fill="#fff" stroke="#3ccfd6" stroke-width="0.72"/>
<circle cx="543.00" cy="212.80" r="2.9" fill="#fff" stroke="#3ccfd6" stroke-width="0.72"/>
<circle cx="552.20" cy="202.70" r="2.9" fill="#fff" stroke="#3ccfd6" stroke-width="0.72"/>
<circle cx="552.20" cy="209.30" r="2.9" fill="#fff" stroke="#3ccfd6" stroke-width="0.72"/>
<circle cx="556.20" cy="204.70" r="2.9" fill="#fff" stroke="#3ccfd6" stroke-width="0.72"/>
<circle cx="555.70" cy="215.90" r="2.9" fill="#fff" stroke="#3ccfd6" stroke-width="0.72"/>
<circle cx="561.80" cy="206.20" r="2.9" fill="#fff" stroke="#3ccfd6" stroke-width="0.72"/>
<circle cx="559.80" cy="208.80" r="2.9" fill="#fff" stroke="#3ccfd6" stroke-width="0.72"/>
<circle cx="565.90" cy="208.30" r="2.9" fill="#fff" stroke="#3ccfd6" stroke-width="0.72"/>
<circle cx="567.90" cy="197.60" r="2.9" fill="#fff" stroke="#3ccfd6" stroke-width="0.72"/>
<circle cx="568.40" cy="201.20" r="2.9" fill="#fff" stroke="#3ccfd6" stroke-width="0.72"/>
<circle cx="569.90" cy="207.30" r="2.9" fill="#fff" stroke="#3ccfd6" stroke-width="0.72"/>
<circle cx="573.50" cy="211.30" r="2.9" fill="#fff" stroke="#3ccfd6" stroke-width="0.72"/>
<circle cx="575.00" cy="204.20" r="2.9" fill="#fff" stroke="#3ccfd6" stroke-width="0.72"/>
<circle cx="577.50" cy="208.30" r="2.9" fill="#fff" stroke="#3ccfd6" stroke-width="0.72"/>
<circle cx="578.00" cy="214.40" r="2.9" fill="#fff" stroke="#3ccfd6" stroke-width="0.72"/>
<circle cx="579.60" cy="202.20" r="2.9" fill="#fff" stroke="#3ccfd6" stroke-width="0.72"/>
<circle cx="580.60" cy="206.20" r="2.9" fill="#fff" stroke="#3ccfd6" stroke-width="0.72"/>
<circle cx="584.60" cy="204.70" r="2.9" fill="#fff" stroke="#3ccfd6" stroke-width="0.72"/>
<circle cx="582.60" cy="209.80" r="2.9" fill="#fff" stroke="#3ccfd6" stroke-width="0.72"/>
<circle cx="586.10" cy="207.80" r="2.9" fill="#fff" stroke="#3ccfd6" stroke-width="0.72"/>
<circle cx="589.70" cy="206.80" r="2.9" fill="#fff" stroke="#3ccfd6" stroke-width="0.72"/>
<circle cx="592.20" cy="208.30" r="2.9" fill="#fff" stroke="#3ccfd6" stroke-width="0.72"/>
<circle cx="594.20" cy="210.80" r="2.9" fill="#fff" stroke="#3ccfd6" stroke-width="0.72"/>
<circle cx="590.70" cy="214.40" r="2.9" fill="#fff" stroke="#3ccfd6" stroke-width="0.72"/>
<circle cx="613.30" cy="206.80" r="2.9" fill="#fff" stroke="#3ccfd6" stroke-width="0.72"/>
<circle cx="610.00" cy="216.40" r="2.9" fill="#fff" stroke="#3ccfd6" stroke-width="0.72"/>
<circle cx="616.60" cy="214.90" r="2.9" fill="#fff" stroke="#3ccfd6" stroke-width="0.72"/>
<circle cx="642.20" cy="205.20" r="2.9" fill="#fff" stroke="#3ccfd6" stroke-width="0.72"/>
<circle cx="644.00" cy="213.00" r="2.9" fill="#fff" stroke="#3ccfd6" stroke-width="0.72"/>
<circle cx="664.80" cy="203.50" r="2.9" fill="#fff" stroke="#3ccfd6" stroke-width="0.72"/>
<circle cx="663.10" cy="213.40" r="2.9" fill="#fff" stroke="#3ccfd6" stroke-width="0.72"/>
<circle cx="674.30" cy="215.20" r="2.9" fill="#fff" stroke="#3ccfd6" stroke-width="0.72"/>
<circle cx="285.20" cy="291.80" r="2.9" fill="#fff" stroke="#b28cec" stroke-width="0.72"/>
<circle cx="285.00" cy="294.70" r="2.9" fill="#fff" stroke="#b28cec" stroke-width="0.72"/>
<circle cx="289.40" cy="292.90" r="2.9" fill="#fff" stroke="#b28cec" stroke-width="0.72"/>
<circle cx="290.50" cy="295.00" r="2.9" fill="#fff" stroke="#b28cec" stroke-width="0.72"/>
<circle cx="294.80" cy="293.50" r="2.9" fill="#fff" stroke="#b28cec" stroke-width="0.72"/>
<circle cx="293.30" cy="285.50" r="2.9" fill="#fff" stroke="#b28cec" stroke-width="0.72"/>
<circle cx="297.20" cy="287.30" r="2.9" fill="#fff" stroke="#b28cec" stroke-width="0.72"/>
<circle cx="299.80" cy="290.80" r="2.9" fill="#fff" stroke="#b28cec" stroke-width="0.72"/>
<circle cx="301.10" cy="280.80" r="2.9" fill="#fff" stroke="#b28cec" stroke-width="0.72"/>
<circle cx="301.60" cy="286.00" r="2.9" fill="#fff" stroke="#b28cec" stroke-width="0.72"/>
<circle cx="305.50" cy="289.00" r="2.9" fill="#fff" stroke="#b28cec" stroke-width="0.72"/>
<circle cx="305.90" cy="282.10" r="2.9" fill="#fff" stroke="#b28cec" stroke-width="0.72"/>
<circle cx="308.50" cy="274.20" r="2.9" fill="#fff" stroke="#b28cec" stroke-width="0.72"/>
<circle cx="309.40" cy="282.90" r="2.9" fill="#fff" stroke="#b28cec" stroke-width="0.72"/>
<circle cx="309.80" cy="291.20" r="2.9" fill="#fff" stroke="#b28cec" stroke-width="0.72"/>
<circle cx="310.30" cy="279.00" r="2.9" fill="#fff" stroke="#b28cec" stroke-width="0.72"/>
<circle cx="306.10" cy="279.20" r="2.9" fill="#fff" stroke="#b28cec" stroke-width="0.72"/>
<circle cx="312.60" cy="281.80" r="2.9" fill="#fff" stroke="#b28cec" stroke-width="0.72"/>
<circle cx="314.30" cy="277.50" r="2.9" fill="#fff" stroke="#b28cec" stroke-width="0.72"/>
<circle cx="313.00" cy="286.60" r="2.9" fill="#fff" stroke="#b28cec" stroke-width="0.72"/>
<circle cx="312.60" cy="290.90" r="2.9" fill="#fff" stroke="#b28cec" stroke-width="0.72"/>
<circle cx="312.60" cy="294.00" r="2.9" fill="#fff" stroke="#b28cec" stroke-width="0.72"/>
<circle cx="317.40" cy="288.30" r="2.9" fill="#fff" stroke="#b28cec" stroke-width="0.72"/>
<circle cx="317.80" cy="283.10" r="2.9" fill="#fff" stroke="#b28cec" stroke-width="0.72"/>
<circle cx="319.60" cy="290.90" r="2.9" fill="#fff" stroke="#b28cec" stroke-width="0.72"/>
<circle cx="321.70" cy="280.90" r="2.9" fill="#fff" stroke="#b28cec" stroke-width="0.72"/>
<circle cx="323.00" cy="286.60" r="2.9" fill="#fff" stroke="#b28cec" stroke-width="0.72"/>
<circle cx="323.90" cy="291.40" r="2.9" fill="#fff" stroke="#b28cec" stroke-width="0.72"/>
<circle cx="325.20" cy="273.50" r="2.9" fill="#fff" stroke="#b28cec" stroke-width="0.72"/>
<circle cx="326.10" cy="281.40" r="2.9" fill="#fff" stroke="#b28cec" stroke-width="0.72"/>
<circle cx="329.10" cy="282.70" r="2.9" fill="#fff" stroke="#b28cec" stroke-width="0.72"/>
<circle cx="330.40" cy="274.00" r="2.9" fill="#fff" stroke="#b28cec" stroke-width="0.72"/>
<circle cx="333.50" cy="277.90" r="2.9" fill="#fff" stroke="#b28cec" stroke-width="0.72"/>
<circle cx="338.30" cy="274.00" r="2.9" fill="#fff" stroke="#b28cec" stroke-width="0.72"/>
<circle cx="338.30" cy="279.20" r="2.9" fill="#fff" stroke="#b28cec" stroke-width="0.72"/>
<circle cx="337.80" cy="284.80" r="2.9" fill="#fff" stroke="#b28cec" stroke-width="0.72"/>
<circle cx="337.80" cy="290.10" r="2.9" fill="#fff" stroke="#b28cec" stroke-width="0.72"/>
<circle cx="328.30" cy="277.50" r="2.9" fill="#fff" stroke="#b28cec" stroke-width="0.72"/>
<circle cx="332.00" cy="268.30" r="2.9" fill="#fff" stroke="#b28cec" stroke-width="0.72"/>
<circle cx="343.20" cy="273.30" r="2.9" fill="#fff" stroke="#b28cec" stroke-width="0.72"/>
<circle cx="346.10" cy="277.90" r="2.9" fill="#fff" stroke="#b28cec" stroke-width="0.72"/>
<circle cx="350.20" cy="275.60" r="2.9" fill="#fff" stroke="#b28cec" stroke-width="0.72"/>
<circle cx="349.60" cy="279.60" r="2.9" fill="#fff" stroke="#b28cec" stroke-width="0.72"/>
<circle cx="351.30" cy="284.30" r="2.9" fill="#fff" stroke="#b28cec" stroke-width="0.72"/>
<circle cx="357.70" cy="275.60" r="2.9" fill="#fff" stroke="#b28cec" stroke-width="0.72"/>
<circle cx="357.70" cy="279.10" r="2.9" fill="#fff" stroke="#b28cec" stroke-width="0.72"/>
<circle cx="357.10" cy="281.90" r="2.9" fill="#fff" stroke="#b28cec" stroke-width="0.72"/>
<circle cx="357.70" cy="287.40" r="2.9" fill="#fff" stroke="#b28cec" stroke-width="0.72"/>
<circle cx="361.00" cy="293.50" r="2.9" fill="#fff" stroke="#b28cec" stroke-width="0.72"/>
<circle cx="368.70" cy="275.00" r="2.9" fill="#fff" stroke="#b28cec" stroke-width="0.72"/>
<circle cx="374.00" cy="278.50" r="2.9" fill="#fff" stroke="#b28cec" stroke-width="0.72"/>
<circle cx="373.40" cy="281.90" r="2.9" fill="#fff" stroke="#b28cec" stroke-width="0.72"/>
<circle cx="371.00" cy="286.90" r="2.9" fill="#fff" stroke="#b28cec" stroke-width="0.72"/>
<circle cx="377.40" cy="294.10" r="2.9" fill="#fff" stroke="#b28cec" stroke-width="0.72"/>
<circle cx="383.90" cy="276.20" r="2.9" fill="#fff" stroke="#b28cec" stroke-width="0.72"/>
<circle cx="382.10" cy="278.50" r="2.9" fill="#fff" stroke="#b28cec" stroke-width="0.72"/>
<circle cx="385.60" cy="282.50" r="2.9" fill="#fff" stroke="#b28cec" stroke-width="0.72"/>
<circle cx="380.40" cy="284.80" r="2.9" fill="#fff" stroke="#b28cec" stroke-width="0.72"/>
<circle cx="398.00" cy="290.10" r="2.9" fill="#fff" stroke="#b28cec" stroke-width="0.72"/>
<circle cx="405.90" cy="292.40" r="2.9" fill="#fff" stroke="#b28cec" stroke-width="0.72"/>
<circle cx="420.70" cy="274.60" r="2.9" fill="#fff" stroke="#b28cec" stroke-width="0.72"/>
<circle cx="280.30" cy="275.00" r="2.9" fill="#fff" stroke="#b28cec" stroke-width="0.72"/>
<circle cx="286.80" cy="281.40" r="2.9" fill="#fff" stroke="#b28cec" stroke-width="0.72"/>
<circle cx="285.30" cy="289.90" r="2.9" fill="#fff" stroke="#b28cec" stroke-width="0.72"/>
<circle cx="284.80" cy="292.20" r="2.9" fill="#fff" stroke="#b28cec" stroke-width="0.72"/>
<circle cx="288.80" cy="289.90" r="2.9" fill="#fff" stroke="#b28cec" stroke-width="0.72"/>
<circle cx="288.20" cy="288.10" r="2.9" fill="#fff" stroke="#b28cec" stroke-width="0.72"/>
<circle cx="292.90" cy="286.40" r="2.9" fill="#fff" stroke="#b28cec" stroke-width="0.72"/>
<circle cx="292.30" cy="290.40" r="2.9" fill="#fff" stroke="#b28cec" stroke-width="0.72"/>
<circle cx="297.50" cy="286.40" r="2.9" fill="#fff" stroke="#b28cec" stroke-width="0.72"/>
<circle cx="297.00" cy="281.70" r="2.9" fill="#fff" stroke="#b28cec" stroke-width="0.72"/>
<circle cx="300.40" cy="277.70" r="2.9" fill="#fff" stroke="#b28cec" stroke-width="0.72"/>
<circle cx="301.00" cy="284.60" r="2.9" fill="#fff" stroke="#b28cec" stroke-width="0.72"/>
<circle cx="303.90" cy="274.20" r="2.9" fill="#fff" stroke="#b28cec" stroke-width="0.72"/>
<circle cx="304.50" cy="281.70" r="2.9" fill="#fff" stroke="#b28cec" stroke-width="0.72"/>
<circle cx="305.00" cy="288.10" r="2.9" fill="#fff" stroke="#b28cec" stroke-width="0.72"/>
<circle cx="307.40" cy="274.20" r="2.9" fill="#fff" stroke="#b28cec" stroke-width="0.72"/>
<circle cx="308.00" cy="282.90" r="2.9" fill="#fff" stroke="#b28cec" stroke-width="0.72"/>
<circle cx="308.00" cy="292.80" r="2.9" fill="#fff" stroke="#b28cec" stroke-width="0.72"/>
<circle cx="310.30" cy="274.80" r="2.9" fill="#fff" stroke="#b28cec" stroke-width="0.72"/>
<circle cx="309.70" cy="288.10" r="2.9" fill="#fff" stroke="#b28cec" stroke-width="0.72"/>
<circle cx="299.80" cy="278.90" r="2.9" fill="#fff" stroke="#b28cec" stroke-width="0.72"/>
<circle cx="328.60" cy="267.00" r="2.9" fill="#fff" stroke="#b28cec" stroke-width="0.72"/>
<circle cx="324.00" cy="271.60" r="2.9" fill="#fff" stroke="#b28cec" stroke-width="0.72"/>
<circle cx="333.20" cy="273.40" r="2.9" fill="#fff" stroke="#b28cec" stroke-width="0.72"/>
<circle cx="335.60" cy="274.50" r="2.9" fill="#fff" stroke="#b28cec" stroke-width="0.72"/>
<circle cx="317.60" cy="276.90" r="2.9" fill="#fff" stroke="#b28cec" stroke-width="0.72"/>
<circle cx="324.00" cy="277.40" r="2.9" fill="#fff" stroke="#b28cec" stroke-width="0.72"/>
<circle cx="328.60" cy="277.40" r="2.9" fill="#fff" stroke="#b28cec" stroke-width="0.72"/>
<circle cx="332.70" cy="277.40" r="2.9" fill="#fff" stroke="#b28cec" stroke-width="0.72"/>
<circle cx="315.90" cy="280.90" r="2.9" fill="#fff" stroke="#b28cec" stroke-width="0.72"/>
<circle cx="323.40" cy="280.90" r="2.9" fill="#fff" stroke="#b28cec" stroke-width="0.72"/>
<circle cx="335.60" cy="279.70" r="2.9" fill="#fff" stroke="#b28cec" stroke-width="0.72"/>
<circle cx="317.60" cy="283.20" r="2.9" fill="#fff" stroke="#b28cec" stroke-width="0.72"/>
<circle cx="323.40" cy="284.40" r="2.9" fill="#fff" stroke="#b28cec" stroke-width="0.72"/>
<circle cx="333.80" cy="283.20" r="2.9" fill="#fff" stroke="#b28cec" stroke-width="0.72"/>
<circle cx="314.70" cy="286.70" r="2.9" fill="#fff" stroke="#b28cec" stroke-width="0.72"/>
<circle cx="319.30" cy="288.70" r="2.9" fill="#fff" stroke="#b28cec" stroke-width="0.72"/>
<circle cx="317.60" cy="290.20" r="2.9" fill="#fff" stroke="#b28cec" stroke-width="0.72"/>
<circle cx="335.60" cy="287.90" r="2.9" fill="#fff" stroke="#b28cec" stroke-width="0.72"/>
<circle cx="331.50" cy="290.80" r="2.9" fill="#fff" stroke="#b28cec" stroke-width="0.72"/>
<circle cx="337.90" cy="286.10" r="2.9" fill="#fff" stroke="#b28cec" stroke-width="0.72"/>
<circle cx="339.60" cy="292.50" r="2.9" fill="#fff" stroke="#b28cec" stroke-width="0.72"/>
<circle cx="319.30" cy="291.90" r="2.9" fill="#fff" stroke="#b28cec" stroke-width="0.72"/>
<circle cx="344.80" cy="275.70" r="2.9" fill="#fff" stroke="#b28cec" stroke-width="0.72"/>
<circle cx="349.90" cy="272.80" r="2.9" fill="#fff" stroke="#b28cec" stroke-width="0.72"/>
<circle cx="345.20" cy="275.70" r="2.9" fill="#fff" stroke="#b28cec" stroke-width="0.72"/>
<circle cx="349.90" cy="276.30" r="2.9" fill="#fff" stroke="#b28cec" stroke-width="0.72"/>
<circle cx="367.20" cy="278.60" r="2.9" fill="#fff" stroke="#b28cec" stroke-width="0.72"/>
<circle cx="372.50" cy="277.40" r="2.9" fill="#fff" stroke="#b28cec" stroke-width="0.72"/>
<circle cx="373.60" cy="282.10" r="2.9" fill="#fff" stroke="#b28cec" stroke-width="0.72"/>
<circle cx="358.00" cy="283.80" r="2.9" fill="#fff" stroke="#b28cec" stroke-width="0.72"/>
<circle cx="360.90" cy="282.60" r="2.9" fill="#fff" stroke="#b28cec" stroke-width="0.72"/>
<circle cx="376.50" cy="285.50" r="2.9" fill="#fff" stroke="#b28cec" stroke-width="0.72"/>
<circle cx="377.10" cy="289.00" r="2.9" fill="#fff" stroke="#b28cec" stroke-width="0.72"/>
<circle cx="377.10" cy="291.90" r="2.9" fill="#fff" stroke="#b28cec" stroke-width="0.72"/>
<circle cx="366.70" cy="289.00" r="2.9" fill="#fff" stroke="#b28cec" stroke-width="0.72"/>
<circle cx="366.10" cy="290.20" r="2.9" fill="#fff" stroke="#b28cec" stroke-width="0.72"/>
<circle cx="351.40" cy="291.10" r="2.9" fill="#fff" stroke="#b28cec" stroke-width="0.72"/>
<circle cx="383.80" cy="279.80" r="2.9" fill="#fff" stroke="#b28cec" stroke-width="0.72"/>
<circle cx="387.10" cy="279.10" r="2.9" fill="#fff" stroke="#b28cec" stroke-width="0.72"/>
<circle cx="383.60" cy="283.90" r="2.9" fill="#fff" stroke="#b28cec" stroke-width="0.72"/>
<circle cx="393.00" cy="292.50" r="2.9" fill="#fff" stroke="#b28cec" stroke-width="0.72"/>
<circle cx="401.20" cy="290.50" r="2.9" fill="#fff" stroke="#b28cec" stroke-width="0.72"/>
<circle cx="407.70" cy="292.20" r="2.9" fill="#fff" stroke="#b28cec" stroke-width="0.72"/>
<circle cx="422.00" cy="271.70" r="2.9" fill="#fff" stroke="#b28cec" stroke-width="0.72"/>
<circle cx="425.30" cy="288.30" r="2.9" fill="#fff" stroke="#b28cec" stroke-width="0.72"/>
<circle cx="285.20" cy="287.50" r="2.9" fill="#fff" stroke="#b28cec" stroke-width="0.72"/>
<circle cx="288.80" cy="286.90" r="2.9" fill="#fff" stroke="#b28cec" stroke-width="0.72"/>
<circle cx="288.20" cy="291.00" r="2.9" fill="#fff" stroke="#b28cec" stroke-width="0.72"/>
<circle cx="288.20" cy="294.10" r="2.9" fill="#fff" stroke="#b28cec" stroke-width="0.72"/>
<circle cx="296.40" cy="283.40" r="2.9" fill="#fff" stroke="#b28cec" stroke-width="0.72"/>
<circle cx="296.40" cy="285.40" r="2.9" fill="#fff" stroke="#b28cec" stroke-width="0.72"/>
<circle cx="296.90" cy="288.00" r="2.9" fill="#fff" stroke="#b28cec" stroke-width="0.72"/>
<circle cx="302.50" cy="287.50" r="2.9" fill="#fff" stroke="#b28cec" stroke-width="0.72"/>
<circle cx="304.50" cy="276.30" r="2.9" fill="#fff" stroke="#b28cec" stroke-width="0.72"/>
<circle cx="305.50" cy="280.90" r="2.9" fill="#fff" stroke="#b28cec" stroke-width="0.72"/>
<circle cx="306.00" cy="286.90" r="2.9" fill="#fff" stroke="#b28cec" stroke-width="0.72"/>
<circle cx="309.60" cy="281.40" r="2.9" fill="#fff" stroke="#b28cec" stroke-width="0.72"/>
<circle cx="310.60" cy="289.50" r="2.9" fill="#fff" stroke="#b28cec" stroke-width="0.72"/>
<circle cx="311.10" cy="275.30" r="2.9" fill="#fff" stroke="#b28cec" stroke-width="0.72"/>
<circle cx="332.10" cy="268.50" r="2.9" fill="#fff" stroke="#b28cec" stroke-width="0.72"/>
<circle cx="313.50" cy="274.90" r="2.9" fill="#fff" stroke="#b28cec" stroke-width="0.72"/>
<circle cx="318.80" cy="274.30" r="2.9" fill="#fff" stroke="#b28cec" stroke-width="0.72"/>
<circle cx="323.40" cy="273.70" r="2.9" fill="#fff" stroke="#b28cec" stroke-width="0.72"/>
<circle cx="326.90" cy="274.30" r="2.9" fill="#fff" stroke="#b28cec" stroke-width="0.72"/>
<circle cx="332.10" cy="276.00" r="2.9" fill="#fff" stroke="#b28cec" stroke-width="0.72"/>
<circle cx="337.30" cy="276.00" r="2.9" fill="#fff" stroke="#b28cec" stroke-width="0.72"/>
<circle cx="343.10" cy="277.20" r="2.9" fill="#fff" stroke="#b28cec" stroke-width="0.72"/>
<circle cx="315.90" cy="278.30" r="2.9" fill="#fff" stroke="#b28cec" stroke-width="0.72"/>
<circle cx="321.10" cy="279.50" r="2.9" fill="#fff" stroke="#b28cec" stroke-width="0.72"/>
<circle cx="308.90" cy="280.70" r="2.9" fill="#fff" stroke="#b28cec" stroke-width="0.72"/>
<circle cx="326.30" cy="280.70" r="2.9" fill="#fff" stroke="#b28cec" stroke-width="0.72"/>
<circle cx="333.80" cy="281.20" r="2.9" fill="#fff" stroke="#b28cec" stroke-width="0.72"/>
<circle cx="339.60" cy="281.20" r="2.9" fill="#fff" stroke="#b28cec" stroke-width="0.72"/>
<circle cx="312.40" cy="283.50" r="2.9" fill="#fff" stroke="#b28cec" stroke-width="0.72"/>
<circle cx="317.60" cy="284.10" r="2.9" fill="#fff" stroke="#b28cec" stroke-width="0.72"/>
<circle cx="322.20" cy="284.10" r="2.9" fill="#fff" stroke="#b28cec" stroke-width="0.72"/>
<circle cx="333.20" cy="285.90" r="2.9" fill="#fff" stroke="#b28cec" stroke-width="0.72"/>
<circle cx="340.80" cy="285.30" r="2.9" fill="#fff" stroke="#b28cec" stroke-width="0.72"/>
<circle cx="308.30" cy="288.20" r="2.9" fill="#fff" stroke="#b28cec" stroke-width="0.72"/>
<circle cx="311.20" cy="289.30" r="2.9" fill="#fff" stroke="#b28cec" stroke-width="0.72"/>
<circle cx="315.90" cy="289.90" r="2.9" fill="#fff" stroke="#b28cec" stroke-width="0.72"/>
<circle cx="333.20" cy="289.90" r="2.9" fill="#fff" stroke="#b28cec" stroke-width="0.72"/>
<circle cx="337.30" cy="287.00" r="2.9" fill="#fff" stroke="#b28cec" stroke-width="0.72"/>
<circle cx="343.10" cy="287.60" r="2.9" fill="#fff" stroke="#b28cec" stroke-width="0.72"/>
<circle cx="319.30" cy="294.80" r="2.9" fill="#fff" stroke="#b28cec" stroke-width="0.72"/>
<circle cx="344.30" cy="293.40" r="2.9" fill="#fff" stroke="#b28cec" stroke-width="0.72"/>
<circle cx="348.10" cy="278.90" r="2.9" fill="#fff" stroke="#b28cec" stroke-width="0.72"/>
<circle cx="352.80" cy="280.70" r="2.9" fill="#fff" stroke="#b28cec" stroke-width="0.72"/>
<circle cx="357.40" cy="280.70" r="2.9" fill="#fff" stroke="#b28cec" stroke-width="0.72"/>
<circle cx="357.40" cy="283.50" r="2.9" fill="#fff" stroke="#b28cec" stroke-width="0.72"/>
<circle cx="347.00" cy="283.50" r="2.9" fill="#fff" stroke="#b28cec" stroke-width="0.72"/>
<circle cx="349.90" cy="291.70" r="2.9" fill="#fff" stroke="#b28cec" stroke-width="0.72"/>
<circle cx="354.50" cy="292.80" r="2.9" fill="#fff" stroke="#b28cec" stroke-width="0.72"/>
<circle cx="377.10" cy="280.70" r="2.9" fill="#fff" stroke="#b28cec" stroke-width="0.72"/>
<circle cx="373.60" cy="289.30" r="2.9" fill="#fff" stroke="#b28cec" stroke-width="0.72"/>
<circle cx="379.40" cy="291.70" r="2.9" fill="#fff" stroke="#b28cec" stroke-width="0.72"/>
<circle cx="404.00" cy="283.60" r="2.9" fill="#fff" stroke="#b28cec" stroke-width="0.72"/>
<circle cx="407.70" cy="286.20" r="2.9" fill="#fff" stroke="#b28cec" stroke-width="0.72"/>
<circle cx="428.50" cy="268.90" r="2.9" fill="#fff" stroke="#b28cec" stroke-width="0.72"/>
<circle cx="426.80" cy="280.60" r="2.9" fill="#fff" stroke="#b28cec" stroke-width="0.72"/>
<circle cx="438.20" cy="288.80" r="2.9" fill="#fff" stroke="#b28cec" stroke-width="0.72"/>
<circle cx="521.70" cy="283.64" r="2.9" fill="#fff" stroke="#b28cec" stroke-width="0.72"/>
<circle cx="521.70" cy="286.37" r="2.9" fill="#fff" stroke="#b28cec" stroke-width="0.72"/>
<circle cx="526.80" cy="282.75" r="2.9" fill="#fff" stroke="#b28cec" stroke-width="0.72"/>
<circle cx="528.30" cy="283.64" r="2.9" fill="#fff" stroke="#b28cec" stroke-width="0.72"/>
<circle cx="531.40" cy="285.49" r="2.9" fill="#fff" stroke="#b28cec" stroke-width="0.72"/>
<circle cx="532.90" cy="281.87" r="2.9" fill="#fff" stroke="#b28cec" stroke-width="0.72"/>
<circle cx="535.90" cy="280.99" r="2.9" fill="#fff" stroke="#b28cec" stroke-width="0.72"/>
<circle cx="537.40" cy="273.84" r="2.9" fill="#fff" stroke="#b28cec" stroke-width="0.72"/>
<circle cx="538.00" cy="275.61" r="2.9" fill="#fff" stroke="#b28cec" stroke-width="0.72"/>
<circle cx="538.50" cy="281.87" r="2.9" fill="#fff" stroke="#b28cec" stroke-width="0.72"/>
<circle cx="542.50" cy="277.37" r="2.9" fill="#fff" stroke="#b28cec" stroke-width="0.72"/>
<circle cx="542.50" cy="282.31" r="2.9" fill="#fff" stroke="#b28cec" stroke-width="0.72"/>
<circle cx="544.00" cy="285.49" r="2.9" fill="#fff" stroke="#b28cec" stroke-width="0.72"/>
<circle cx="545.60" cy="270.22" r="2.9" fill="#fff" stroke="#b28cec" stroke-width="0.72"/>
<circle cx="546.10" cy="280.11" r="2.9" fill="#fff" stroke="#b28cec" stroke-width="0.72"/>
<circle cx="546.60" cy="288.58" r="2.9" fill="#fff" stroke="#b28cec" stroke-width="0.72"/>
<circle cx="547.10" cy="282.31" r="2.9" fill="#fff" stroke="#b28cec" stroke-width="0.72"/>
<circle cx="544.00" cy="277.37" r="2.9" fill="#fff" stroke="#b28cec" stroke-width="0.72"/>
<circle cx="549.10" cy="282.31" r="2.9" fill="#fff" stroke="#b28cec" stroke-width="0.72"/>
<circle cx="548.60" cy="288.58" r="2.9" fill="#fff" stroke="#b28cec" stroke-width="0.72"/>
<circle cx="546.10" cy="285.93" r="2.9" fill="#fff" stroke="#b28cec" stroke-width="0.72"/>
<circle cx="552.20" cy="276.05" r="2.9" fill="#fff" stroke="#b28cec" stroke-width="0.72"/>
<circle cx="553.70" cy="278.69" r="2.9" fill="#fff" stroke="#b28cec" stroke-width="0.72"/>
<circle cx="553.70" cy="283.20" r="2.9" fill="#fff" stroke="#b28cec" stroke-width="0.72"/>
<circle cx="554.20" cy="286.81" r="2.9" fill="#fff" stroke="#b28cec" stroke-width="0.72"/>
<circle cx="558.20" cy="276.05" r="2.9" fill="#fff" stroke="#b28cec" stroke-width="0.72"/>
<circle cx="561.80" cy="280.55" r="2.9" fill="#fff" stroke="#b28cec" stroke-width="0.72"/>
<circle cx="561.80" cy="285.93" r="2.9" fill="#fff" stroke="#b28cec" stroke-width="0.72"/>
<circle cx="563.80" cy="275.61" r="2.9" fill="#fff" stroke="#b28cec" stroke-width="0.72"/>
<circle cx="565.40" cy="283.64" r="2.9" fill="#fff" stroke="#b28cec" stroke-width="0.72"/>
<circle cx="568.40" cy="276.05" r="2.9" fill="#fff" stroke="#b28cec" stroke-width="0.72"/>
<circle cx="569.90" cy="280.55" r="2.9" fill="#fff" stroke="#b28cec" stroke-width="0.72"/>
<circle cx="575.00" cy="280.99" r="2.9" fill="#fff" stroke="#b28cec" stroke-width="0.72"/>
<circle cx="576.00" cy="276.05" r="2.9" fill="#fff" stroke="#b28cec" stroke-width="0.72"/>
<circle cx="575.50" cy="289.02" r="2.9" fill="#fff" stroke="#b28cec" stroke-width="0.72"/>
<circle cx="580.10" cy="275.61" r="2.9" fill="#fff" stroke="#b28cec" stroke-width="0.72"/>
<circle cx="581.60" cy="282.31" r="2.9" fill="#fff" stroke="#b28cec" stroke-width="0.72"/>
<circle cx="582.60" cy="282.75" r="2.9" fill="#fff" stroke="#b28cec" stroke-width="0.72"/>
<circle cx="586.10" cy="279.67" r="2.9" fill="#fff" stroke="#b28cec" stroke-width="0.72"/>
<circle cx="589.70" cy="279.67" r="2.9" fill="#fff" stroke="#b28cec" stroke-width="0.72"/>
<circle cx="593.20" cy="280.11" r="2.9" fill="#fff" stroke="#b28cec" stroke-width="0.72"/>
<circle cx="594.20" cy="283.20" r="2.9" fill="#fff" stroke="#b28cec" stroke-width="0.72"/>
<circle cx="593.70" cy="289.02" r="2.9" fill="#fff" stroke="#b28cec" stroke-width="0.72"/>
<circle cx="597.80" cy="289.46" r="2.9" fill="#fff" stroke="#b28cec" stroke-width="0.72"/>
<circle cx="604.90" cy="278.25" r="2.9" fill="#fff" stroke="#b28cec" stroke-width="0.72"/>
<circle cx="606.40" cy="281.43" r="2.9" fill="#fff" stroke="#b28cec" stroke-width="0.72"/>
<circle cx="604.90" cy="285.93" r="2.9" fill="#fff" stroke="#b28cec" stroke-width="0.72"/>
<circle cx="610.00" cy="280.11" r="2.9" fill="#fff" stroke="#b28cec" stroke-width="0.72"/>
<circle cx="609.00" cy="283.20" r="2.9" fill="#fff" stroke="#b28cec" stroke-width="0.72"/>
<circle cx="615.60" cy="279.67" r="2.9" fill="#fff" stroke="#b28cec" stroke-width="0.72"/>
<circle cx="616.60" cy="282.31" r="2.9" fill="#fff" stroke="#b28cec" stroke-width="0.72"/>
<circle cx="615.10" cy="288.58" r="2.9" fill="#fff" stroke="#b28cec" stroke-width="0.72"/>
<circle cx="619.80" cy="278.78" r="2.9" fill="#fff" stroke="#b28cec" stroke-width="0.72"/>
<circle cx="617.90" cy="282.23" r="2.9" fill="#fff" stroke="#b28cec" stroke-width="0.72"/>
<circle cx="621.80" cy="285.67" r="2.9" fill="#fff" stroke="#b28cec" stroke-width="0.72"/>
<circle cx="634.20" cy="291.67" r="2.9" fill="#fff" stroke="#b28cec" stroke-width="0.72"/>
<circle cx="642.20" cy="289.73" r="2.9" fill="#fff" stroke="#b28cec" stroke-width="0.72"/>
<circle cx="657.00" cy="283.73" r="2.9" fill="#fff" stroke="#b28cec" stroke-width="0.72"/>
<circle cx="516.60" cy="278.07" r="2.9" fill="#fff" stroke="#b28cec" stroke-width="0.72"/>
<circle cx="523.20" cy="272.69" r="2.9" fill="#fff" stroke="#b28cec" stroke-width="0.72"/>
<circle cx="523.20" cy="276.77" r="2.9" fill="#fff" stroke="#b28cec" stroke-width="0.72"/>
<circle cx="523.20" cy="280.76" r="2.9" fill="#fff" stroke="#b28cec" stroke-width="0.72"/>
<circle cx="521.70" cy="286.34" r="2.9" fill="#fff" stroke="#b28cec" stroke-width="0.72"/>
<circle cx="524.80" cy="284.35" r="2.9" fill="#fff" stroke="#b28cec" stroke-width="0.72"/>
<circle cx="529.30" cy="277.77" r="2.9" fill="#fff" stroke="#b28cec" stroke-width="0.72"/>
<circle cx="528.80" cy="281.76" r="2.9" fill="#fff" stroke="#b28cec" stroke-width="0.72"/>
<circle cx="532.90" cy="280.76" r="2.9" fill="#fff" stroke="#b28cec" stroke-width="0.72"/>
<circle cx="534.90" cy="278.27" r="2.9" fill="#fff" stroke="#b28cec" stroke-width="0.72"/>
<circle cx="537.40" cy="269.10" r="2.9" fill="#fff" stroke="#b28cec" stroke-width="0.72"/>
<circle cx="536.40" cy="281.26" r="2.9" fill="#fff" stroke="#b28cec" stroke-width="0.72"/>
<circle cx="540.50" cy="275.68" r="2.9" fill="#fff" stroke="#b28cec" stroke-width="0.72"/>
<circle cx="540.00" cy="280.76" r="2.9" fill="#fff" stroke="#b28cec" stroke-width="0.72"/>
<circle cx="543.00" cy="278.77" r="2.9" fill="#fff" stroke="#b28cec" stroke-width="0.72"/>
<circle cx="544.00" cy="285.34" r="2.9" fill="#fff" stroke="#b28cec" stroke-width="0.72"/>
<circle cx="546.10" cy="278.27" r="2.9" fill="#fff" stroke="#b28cec" stroke-width="0.72"/>
<circle cx="546.60" cy="283.85" r="2.9" fill="#fff" stroke="#b28cec" stroke-width="0.72"/>
<circle cx="543.00" cy="283.35" r="2.9" fill="#fff" stroke="#b28cec" stroke-width="0.72"/>
<circle cx="546.10" cy="285.34" r="2.9" fill="#fff" stroke="#b28cec" stroke-width="0.72"/>
<circle cx="553.70" cy="278.77" r="2.9" fill="#fff" stroke="#b28cec" stroke-width="0.72"/>
<circle cx="552.20" cy="283.85" r="2.9" fill="#fff" stroke="#b28cec" stroke-width="0.72"/>
<circle cx="555.70" cy="285.84" r="2.9" fill="#fff" stroke="#b28cec" stroke-width="0.72"/>
<circle cx="555.20" cy="290.93" r="2.9" fill="#fff" stroke="#b28cec" stroke-width="0.72"/>
<circle cx="559.80" cy="276.77" r="2.9" fill="#fff" stroke="#b28cec" stroke-width="0.72"/>
<circle cx="560.30" cy="280.76" r="2.9" fill="#fff" stroke="#b28cec" stroke-width="0.72"/>
<circle cx="564.80" cy="272.19" r="2.9" fill="#fff" stroke="#b28cec" stroke-width="0.72"/>
<circle cx="565.40" cy="277.77" r="2.9" fill="#fff" stroke="#b28cec" stroke-width="0.72"/>
<circle cx="566.40" cy="282.25" r="2.9" fill="#fff" stroke="#b28cec" stroke-width="0.72"/>
<circle cx="568.90" cy="275.18" r="2.9" fill="#fff" stroke="#b28cec" stroke-width="0.72"/>
<circle cx="571.40" cy="280.76" r="2.9" fill="#fff" stroke="#b28cec" stroke-width="0.72"/>
<circle cx="568.40" cy="286.84" r="2.9" fill="#fff" stroke="#b28cec" stroke-width="0.72"/>
<circle cx="574.50" cy="286.84" r="2.9" fill="#fff" stroke="#b28cec" stroke-width="0.72"/>
<circle cx="576.50" cy="278.77" r="2.9" fill="#fff" stroke="#b28cec" stroke-width="0.72"/>
<circle cx="580.60" cy="276.77" r="2.9" fill="#fff" stroke="#b28cec" stroke-width="0.72"/>
<circle cx="586.10" cy="276.77" r="2.9" fill="#fff" stroke="#b28cec" stroke-width="0.72"/>
<circle cx="585.60" cy="279.76" r="2.9" fill="#fff" stroke="#b28cec" stroke-width="0.72"/>
<circle cx="587.60" cy="284.35" r="2.9" fill="#fff" stroke="#b28cec" stroke-width="0.72"/>
<circle cx="593.70" cy="281.76" r="2.9" fill="#fff" stroke="#b28cec" stroke-width="0.72"/>
<circle cx="597.30" cy="284.85" r="2.9" fill="#fff" stroke="#b28cec" stroke-width="0.72"/>
<circle cx="603.40" cy="278.77" r="2.9" fill="#fff" stroke="#b28cec" stroke-width="0.72"/>
<circle cx="602.90" cy="286.84" r="2.9" fill="#fff" stroke="#b28cec" stroke-width="0.72"/>
<circle cx="610.00" cy="278.77" r="2.9" fill="#fff" stroke="#b28cec" stroke-width="0.72"/>
<circle cx="613.00" cy="282.75" r="2.9" fill="#fff" stroke="#b28cec" stroke-width="0.72"/>
<circle cx="609.50" cy="286.84" r="2.9" fill="#fff" stroke="#b28cec" stroke-width="0.72"/>
<circle cx="612.50" cy="287.34" r="2.9" fill="#fff" stroke="#b28cec" stroke-width="0.72"/>
<circle cx="617.10" cy="283.35" r="2.9" fill="#fff" stroke="#b28cec" stroke-width="0.72"/>
<circle cx="619.80" cy="282.06" r="2.9" fill="#fff" stroke="#b28cec" stroke-width="0.72"/>
<circle cx="623.10" cy="281.36" r="2.9" fill="#fff" stroke="#b28cec" stroke-width="0.72"/>
<circle cx="619.80" cy="285.94" r="2.9" fill="#fff" stroke="#b28cec" stroke-width="0.72"/>
<circle cx="629.60" cy="285.64" r="2.9" fill="#fff" stroke="#b28cec" stroke-width="0.72"/>
<circle cx="637.40" cy="288.23" r="2.9" fill="#fff" stroke="#b28cec" stroke-width="0.72"/>
<circle cx="644.00" cy="287.64" r="2.9" fill="#fff" stroke="#b28cec" stroke-width="0.72"/>
<circle cx="658.30" cy="279.66" r="2.9" fill="#fff" stroke="#b28cec" stroke-width="0.72"/>
<circle cx="661.50" cy="291.12" r="2.9" fill="#fff" stroke="#b28cec" stroke-width="0.72"/>
<circle cx="521.70" cy="277.77" r="2.9" fill="#fff" stroke="#b28cec" stroke-width="0.72"/>
<circle cx="525.30" cy="277.77" r="2.9" fill="#fff" stroke="#b28cec" stroke-width="0.72"/>
<circle cx="524.80" cy="282.35" r="2.9" fill="#fff" stroke="#b28cec" stroke-width="0.72"/>
<circle cx="532.90" cy="278.77" r="2.9" fill="#fff" stroke="#b28cec" stroke-width="0.72"/>
<circle cx="532.90" cy="282.35" r="2.9" fill="#fff" stroke="#b28cec" stroke-width="0.72"/>
<circle cx="538.00" cy="283.85" r="2.9" fill="#fff" stroke="#b28cec" stroke-width="0.72"/>
<circle cx="541.50" cy="277.27" r="2.9" fill="#fff" stroke="#b28cec" stroke-width="0.72"/>
<circle cx="542.50" cy="286.34" r="2.9" fill="#fff" stroke="#b28cec" stroke-width="0.72"/>
<circle cx="545.00" cy="278.77" r="2.9" fill="#fff" stroke="#b28cec" stroke-width="0.72"/>
<circle cx="546.10" cy="282.85" r="2.9" fill="#fff" stroke="#b28cec" stroke-width="0.72"/>
<circle cx="539.00" cy="282.35" r="2.9" fill="#fff" stroke="#b28cec" stroke-width="0.72"/>
<circle cx="543.00" cy="286.84" r="2.9" fill="#fff" stroke="#b28cec" stroke-width="0.72"/>
<circle cx="552.20" cy="276.77" r="2.9" fill="#fff" stroke="#b28cec" stroke-width="0.72"/>
<circle cx="552.20" cy="283.35" r="2.9" fill="#fff" stroke="#b28cec" stroke-width="0.72"/>
<circle cx="556.20" cy="278.77" r="2.9" fill="#fff" stroke="#b28cec" stroke-width="0.72"/>
<circle cx="555.70" cy="289.93" r="2.9" fill="#fff" stroke="#b28cec" stroke-width="0.72"/>
<circle cx="561.80" cy="280.26" r="2.9" fill="#fff" stroke="#b28cec" stroke-width="0.72"/>
<circle cx="559.80" cy="282.85" r="2.9" fill="#fff" stroke="#b28cec" stroke-width="0.72"/>
<circle cx="565.90" cy="282.35" r="2.9" fill="#fff" stroke="#b28cec" stroke-width="0.72"/>
<circle cx="567.90" cy="271.69" r="2.9" fill="#fff" stroke="#b28cec" stroke-width="0.72"/>
<circle cx="568.40" cy="275.28" r="2.9" fill="#fff" stroke="#b28cec" stroke-width="0.72"/>
<circle cx="569.90" cy="281.36" r="2.9" fill="#fff" stroke="#b28cec" stroke-width="0.72"/>
<circle cx="573.50" cy="285.34" r="2.9" fill="#fff" stroke="#b28cec" stroke-width="0.72"/>
<circle cx="575.00" cy="278.27" r="2.9" fill="#fff" stroke="#b28cec" stroke-width="0.72"/>
<circle cx="577.50" cy="282.35" r="2.9" fill="#fff" stroke="#b28cec" stroke-width="0.72"/>
<circle cx="578.00" cy="288.43" r="2.9" fill="#fff" stroke="#b28cec" stroke-width="0.72"/>
<circle cx="579.60" cy="276.28" r="2.9" fill="#fff" stroke="#b28cec" stroke-width="0.72"/>
<circle cx="580.60" cy="280.26" r="2.9" fill="#fff" stroke="#b28cec" stroke-width="0.72"/>
<circle cx="584.60" cy="278.77" r="2.9" fill="#fff" stroke="#b28cec" stroke-width="0.72"/>
<circle cx="582.60" cy="283.85" r="2.9" fill="#fff" stroke="#b28cec" stroke-width="0.72"/>
<circle cx="586.10" cy="281.86" r="2.9" fill="#fff" stroke="#b28cec" stroke-width="0.72"/>
<circle cx="589.70" cy="280.86" r="2.9" fill="#fff" stroke="#b28cec" stroke-width="0.72"/>
<circle cx="592.20" cy="282.35" r="2.9" fill="#fff" stroke="#b28cec" stroke-width="0.72"/>
<circle cx="594.20" cy="284.85" r="2.9" fill="#fff" stroke="#b28cec" stroke-width="0.72"/>
<circle cx="590.70" cy="288.43" r="2.9" fill="#fff" stroke="#b28cec" stroke-width="0.72"/>
<circle cx="613.30" cy="280.86" r="2.9" fill="#fff" stroke="#b28cec" stroke-width="0.72"/>
<circle cx="610.00" cy="290.43" r="2.9" fill="#fff" stroke="#b28cec" stroke-width="0.72"/>
<circle cx="616.60" cy="288.93" r="2.9" fill="#fff" stroke="#b28cec" stroke-width="0.72"/>
<circle cx="642.20" cy="279.27" r="2.9" fill="#fff" stroke="#b28cec" stroke-width="0.72"/>
<circle cx="644.00" cy="287.04" r="2.9" fill="#fff" stroke="#b28cec" stroke-width="0.72"/>
<circle cx="664.80" cy="277.57" r="2.9" fill="#fff" stroke="#b28cec" stroke-width="0.72"/>
<circle cx="663.10" cy="287.44" r="2.9" fill="#fff" stroke="#b28cec" stroke-width="0.72"/>
<circle cx="674.30" cy="289.23" r="2.9" fill="#fff" stroke="#b28cec" stroke-width="0.72"/>
<rect x="37.50" y="14.50" width="176.90" height="296.70" fill="none" stroke="#1e1e1e" stroke-width="1.2"/>
<line x1="37.50" y1="88.70" x2="214.40" y2="88.70" stroke="#1e1e1e" stroke-width="1.2"/>
<line x1="37.50" y1="162.90" x2="214.40" y2="162.90" stroke="#1e1e1e" stroke-width="1.2"/>
<line x1="37.50" y1="237.00" x2="214.40" y2="237.00" stroke="#1e1e1e" stroke-width="1.2"/>
<line x1="45.50" y1="88.70" x2="45.50" y2="84.30" stroke="#1e1e1e" stroke-width="1.0"/>
<line x1="85.72" y1="88.70" x2="85.72" y2="84.30" stroke="#1e1e1e" stroke-width="1.0"/>
<line x1="125.95" y1="88.70" x2="125.95" y2="84.30" stroke="#1e1e1e" stroke-width="1.0"/>
<line x1="166.18" y1="88.70" x2="166.18" y2="84.30" stroke="#1e1e1e" stroke-width="1.0"/>
<line x1="206.40" y1="88.70" x2="206.40" y2="84.30" stroke="#1e1e1e" stroke-width="1.0"/>
<line x1="65.61" y1="88.70" x2="65.61" y2="86.30" stroke="#1e1e1e" stroke-width="1.0"/>
<line x1="105.84" y1="88.70" x2="105.84" y2="86.30" stroke="#1e1e1e" stroke-width="1.0"/>
<line x1="146.06" y1="88.70" x2="146.06" y2="86.30" stroke="#1e1e1e" stroke-width="1.0"/>
<line x1="186.29" y1="88.70" x2="186.29" y2="86.30" stroke="#1e1e1e" stroke-width="1.0"/>
<text transform="translate(207.10,32.10) scale(1,1.06)" font-size="13.45" text-anchor="end" font-weight="normal" >Homoepitaxial</text>
<line x1="45.50" y1="162.90" x2="45.50" y2="158.50" stroke="#1e1e1e" stroke-width="1.0"/>
<line x1="85.72" y1="162.90" x2="85.72" y2="158.50" stroke="#1e1e1e" stroke-width="1.0"/>
<line x1="125.95" y1="162.90" x2="125.95" y2="158.50" stroke="#1e1e1e" stroke-width="1.0"/>
<line x1="166.18" y1="162.90" x2="166.18" y2="158.50" stroke="#1e1e1e" stroke-width="1.0"/>
<line x1="206.40" y1="162.90" x2="206.40" y2="158.50" stroke="#1e1e1e" stroke-width="1.0"/>
<line x1="65.61" y1="162.90" x2="65.61" y2="160.50" stroke="#1e1e1e" stroke-width="1.0"/>
<line x1="105.84" y1="162.90" x2="105.84" y2="160.50" stroke="#1e1e1e" stroke-width="1.0"/>
<line x1="146.06" y1="162.90" x2="146.06" y2="160.50" stroke="#1e1e1e" stroke-width="1.0"/>
<line x1="186.29" y1="162.90" x2="186.29" y2="160.50" stroke="#1e1e1e" stroke-width="1.0"/>
<text transform="translate(207.10,106.30) scale(1,1.06)" font-size="13.45" text-anchor="end" font-weight="normal" >Heteroepitaxial</text>
<line x1="45.50" y1="237.00" x2="45.50" y2="232.60" stroke="#1e1e1e" stroke-width="1.0"/>
<line x1="85.72" y1="237.00" x2="85.72" y2="232.60" stroke="#1e1e1e" stroke-width="1.0"/>
<line x1="125.95" y1="237.00" x2="125.95" y2="232.60" stroke="#1e1e1e" stroke-width="1.0"/>
<line x1="166.18" y1="237.00" x2="166.18" y2="232.60" stroke="#1e1e1e" stroke-width="1.0"/>
<line x1="206.40" y1="237.00" x2="206.40" y2="232.60" stroke="#1e1e1e" stroke-width="1.0"/>
<line x1="65.61" y1="237.00" x2="65.61" y2="234.60" stroke="#1e1e1e" stroke-width="1.0"/>
<line x1="105.84" y1="237.00" x2="105.84" y2="234.60" stroke="#1e1e1e" stroke-width="1.0"/>
<line x1="146.06" y1="237.00" x2="146.06" y2="234.60" stroke="#1e1e1e" stroke-width="1.0"/>
<line x1="186.29" y1="237.00" x2="186.29" y2="234.60" stroke="#1e1e1e" stroke-width="1.0"/>
<text transform="translate(207.10,180.50) scale(1,1.06)" font-size="13.45" text-anchor="end" font-weight="normal" >Substrate</text>
<line x1="45.50" y1="311.20" x2="45.50" y2="306.80" stroke="#1e1e1e" stroke-width="1.0"/>
<line x1="85.72" y1="311.20" x2="85.72" y2="306.80" stroke="#1e1e1e" stroke-width="1.0"/>
<line x1="125.95" y1="311.20" x2="125.95" y2="306.80" stroke="#1e1e1e" stroke-width="1.0"/>
<line x1="166.18" y1="311.20" x2="166.18" y2="306.80" stroke="#1e1e1e" stroke-width="1.0"/>
<line x1="206.40" y1="311.20" x2="206.40" y2="306.80" stroke="#1e1e1e" stroke-width="1.0"/>
<line x1="65.61" y1="311.20" x2="65.61" y2="308.80" stroke="#1e1e1e" stroke-width="1.0"/>
<line x1="105.84" y1="311.20" x2="105.84" y2="308.80" stroke="#1e1e1e" stroke-width="1.0"/>
<line x1="146.06" y1="311.20" x2="146.06" y2="308.80" stroke="#1e1e1e" stroke-width="1.0"/>
<line x1="186.29" y1="311.20" x2="186.29" y2="308.80" stroke="#1e1e1e" stroke-width="1.0"/>
<text transform="translate(207.10,254.60) scale(1,1.06)" font-size="13.45" text-anchor="end" font-weight="normal" >Total</text>
<text transform="translate(45.50,326.90) scale(1,1.05)" font-size="13.2" text-anchor="middle" font-weight="normal" >550</text>
<text transform="translate(85.72,326.90) scale(1,1.05)" font-size="13.2" text-anchor="middle" font-weight="normal" >575</text>
<text transform="translate(125.95,326.90) scale(1,1.05)" font-size="13.2" text-anchor="middle" font-weight="normal" >600</text>
<text transform="translate(166.18,326.90) scale(1,1.05)" font-size="13.2" text-anchor="middle" font-weight="normal" >625</text>
<text transform="translate(206.40,326.90) scale(1,1.05)" font-size="13.2" text-anchor="middle" font-weight="normal" >650</text>
<rect x="269.50" y="14.50" width="176.90" height="296.50" fill="none" stroke="#1e1e1e" stroke-width="1.2"/>
<line x1="269.50" y1="88.70" x2="446.40" y2="88.70" stroke="#1e1e1e" stroke-width="1.2"/>
<line x1="269.50" y1="162.90" x2="446.40" y2="162.90" stroke="#1e1e1e" stroke-width="1.2"/>
<line x1="269.50" y1="237.00" x2="446.40" y2="237.00" stroke="#1e1e1e" stroke-width="1.2"/>
<line x1="277.30" y1="88.70" x2="277.30" y2="84.30" stroke="#1e1e1e" stroke-width="1.0"/>
<line x1="317.60" y1="88.70" x2="317.60" y2="84.30" stroke="#1e1e1e" stroke-width="1.0"/>
<line x1="357.90" y1="88.70" x2="357.90" y2="84.30" stroke="#1e1e1e" stroke-width="1.0"/>
<line x1="398.20" y1="88.70" x2="398.20" y2="84.30" stroke="#1e1e1e" stroke-width="1.0"/>
<line x1="438.50" y1="88.70" x2="438.50" y2="84.30" stroke="#1e1e1e" stroke-width="1.0"/>
<line x1="297.45" y1="88.70" x2="297.45" y2="86.30" stroke="#1e1e1e" stroke-width="1.0"/>
<line x1="337.75" y1="88.70" x2="337.75" y2="86.30" stroke="#1e1e1e" stroke-width="1.0"/>
<line x1="378.05" y1="88.70" x2="378.05" y2="86.30" stroke="#1e1e1e" stroke-width="1.0"/>
<line x1="418.35" y1="88.70" x2="418.35" y2="86.30" stroke="#1e1e1e" stroke-width="1.0"/>
<text transform="translate(437.60,32.10) scale(1,1.06)" font-size="13.45" text-anchor="end" font-weight="normal" >Homoepitaxial</text>
<line x1="277.30" y1="162.90" x2="277.30" y2="158.50" stroke="#1e1e1e" stroke-width="1.0"/>
<line x1="317.60" y1="162.90" x2="317.60" y2="158.50" stroke="#1e1e1e" stroke-width="1.0"/>
<line x1="357.90" y1="162.90" x2="357.90" y2="158.50" stroke="#1e1e1e" stroke-width="1.0"/>
<line x1="398.20" y1="162.90" x2="398.20" y2="158.50" stroke="#1e1e1e" stroke-width="1.0"/>
<line x1="438.50" y1="162.90" x2="438.50" y2="158.50" stroke="#1e1e1e" stroke-width="1.0"/>
<line x1="297.45" y1="162.90" x2="297.45" y2="160.50" stroke="#1e1e1e" stroke-width="1.0"/>
<line x1="337.75" y1="162.90" x2="337.75" y2="160.50" stroke="#1e1e1e" stroke-width="1.0"/>
<line x1="378.05" y1="162.90" x2="378.05" y2="160.50" stroke="#1e1e1e" stroke-width="1.0"/>
<line x1="418.35" y1="162.90" x2="418.35" y2="160.50" stroke="#1e1e1e" stroke-width="1.0"/>
<text transform="translate(437.60,106.30) scale(1,1.06)" font-size="13.45" text-anchor="end" font-weight="normal" >Heteroepitaxial</text>
<line x1="277.30" y1="237.00" x2="277.30" y2="232.60" stroke="#1e1e1e" stroke-width="1.0"/>
<line x1="317.60" y1="237.00" x2="317.60" y2="232.60" stroke="#1e1e1e" stroke-width="1.0"/>
<line x1="357.90" y1="237.00" x2="357.90" y2="232.60" stroke="#1e1e1e" stroke-width="1.0"/>
<line x1="398.20" y1="237.00" x2="398.20" y2="232.60" stroke="#1e1e1e" stroke-width="1.0"/>
<line x1="438.50" y1="237.00" x2="438.50" y2="232.60" stroke="#1e1e1e" stroke-width="1.0"/>
<line x1="297.45" y1="237.00" x2="297.45" y2="234.60" stroke="#1e1e1e" stroke-width="1.0"/>
<line x1="337.75" y1="237.00" x2="337.75" y2="234.60" stroke="#1e1e1e" stroke-width="1.0"/>
<line x1="378.05" y1="237.00" x2="378.05" y2="234.60" stroke="#1e1e1e" stroke-width="1.0"/>
<line x1="418.35" y1="237.00" x2="418.35" y2="234.60" stroke="#1e1e1e" stroke-width="1.0"/>
<text transform="translate(437.60,180.50) scale(1,1.06)" font-size="13.45" text-anchor="end" font-weight="normal" >Substrate</text>
<line x1="277.30" y1="311.00" x2="277.30" y2="306.60" stroke="#1e1e1e" stroke-width="1.0"/>
<line x1="317.60" y1="311.00" x2="317.60" y2="306.60" stroke="#1e1e1e" stroke-width="1.0"/>
<line x1="357.90" y1="311.00" x2="357.90" y2="306.60" stroke="#1e1e1e" stroke-width="1.0"/>
<line x1="398.20" y1="311.00" x2="398.20" y2="306.60" stroke="#1e1e1e" stroke-width="1.0"/>
<line x1="438.50" y1="311.00" x2="438.50" y2="306.60" stroke="#1e1e1e" stroke-width="1.0"/>
<line x1="297.45" y1="311.00" x2="297.45" y2="308.60" stroke="#1e1e1e" stroke-width="1.0"/>
<line x1="337.75" y1="311.00" x2="337.75" y2="308.60" stroke="#1e1e1e" stroke-width="1.0"/>
<line x1="378.05" y1="311.00" x2="378.05" y2="308.60" stroke="#1e1e1e" stroke-width="1.0"/>
<line x1="418.35" y1="311.00" x2="418.35" y2="308.60" stroke="#1e1e1e" stroke-width="1.0"/>
<text transform="translate(437.60,254.60) scale(1,1.06)" font-size="13.45" text-anchor="end" font-weight="normal" >Total</text>
<text transform="translate(277.30,326.90) scale(1,1.05)" font-size="13.2" text-anchor="middle" font-weight="normal" >550</text>
<text transform="translate(317.60,326.90) scale(1,1.05)" font-size="13.2" text-anchor="middle" font-weight="normal" >575</text>
<text transform="translate(357.90,326.90) scale(1,1.05)" font-size="13.2" text-anchor="middle" font-weight="normal" >600</text>
<text transform="translate(398.20,326.90) scale(1,1.05)" font-size="13.2" text-anchor="middle" font-weight="normal" >625</text>
<text transform="translate(438.50,326.90) scale(1,1.05)" font-size="13.2" text-anchor="middle" font-weight="normal" >650</text>
<rect x="505.90" y="15.40" width="176.50" height="295.70" fill="none" stroke="#1e1e1e" stroke-width="1.2"/>
<line x1="505.90" y1="89.10" x2="682.40" y2="89.10" stroke="#1e1e1e" stroke-width="1.2"/>
<line x1="505.90" y1="163.00" x2="682.40" y2="163.00" stroke="#1e1e1e" stroke-width="1.2"/>
<line x1="505.90" y1="237.20" x2="682.40" y2="237.20" stroke="#1e1e1e" stroke-width="1.2"/>
<line x1="513.80" y1="89.10" x2="513.80" y2="84.70" stroke="#1e1e1e" stroke-width="1.0"/>
<line x1="554.05" y1="89.10" x2="554.05" y2="84.70" stroke="#1e1e1e" stroke-width="1.0"/>
<line x1="594.30" y1="89.10" x2="594.30" y2="84.70" stroke="#1e1e1e" stroke-width="1.0"/>
<line x1="634.55" y1="89.10" x2="634.55" y2="84.70" stroke="#1e1e1e" stroke-width="1.0"/>
<line x1="674.80" y1="89.10" x2="674.80" y2="84.70" stroke="#1e1e1e" stroke-width="1.0"/>
<line x1="533.92" y1="89.10" x2="533.92" y2="86.70" stroke="#1e1e1e" stroke-width="1.0"/>
<line x1="574.17" y1="89.10" x2="574.17" y2="86.70" stroke="#1e1e1e" stroke-width="1.0"/>
<line x1="614.42" y1="89.10" x2="614.42" y2="86.70" stroke="#1e1e1e" stroke-width="1.0"/>
<line x1="654.67" y1="89.10" x2="654.67" y2="86.70" stroke="#1e1e1e" stroke-width="1.0"/>
<text transform="translate(672.70,34.40) scale(1,1.06)" font-size="13.45" text-anchor="end" font-weight="normal" >Homoepitaxial</text>
<line x1="513.80" y1="163.00" x2="513.80" y2="158.60" stroke="#1e1e1e" stroke-width="1.0"/>
<line x1="554.05" y1="163.00" x2="554.05" y2="158.60" stroke="#1e1e1e" stroke-width="1.0"/>
<line x1="594.30" y1="163.00" x2="594.30" y2="158.60" stroke="#1e1e1e" stroke-width="1.0"/>
<line x1="634.55" y1="163.00" x2="634.55" y2="158.60" stroke="#1e1e1e" stroke-width="1.0"/>
<line x1="674.80" y1="163.00" x2="674.80" y2="158.60" stroke="#1e1e1e" stroke-width="1.0"/>
<line x1="533.92" y1="163.00" x2="533.92" y2="160.60" stroke="#1e1e1e" stroke-width="1.0"/>
<line x1="574.17" y1="163.00" x2="574.17" y2="160.60" stroke="#1e1e1e" stroke-width="1.0"/>
<line x1="614.42" y1="163.00" x2="614.42" y2="160.60" stroke="#1e1e1e" stroke-width="1.0"/>
<line x1="654.67" y1="163.00" x2="654.67" y2="160.60" stroke="#1e1e1e" stroke-width="1.0"/>
<text transform="translate(672.70,108.10) scale(1,1.06)" font-size="13.45" text-anchor="end" font-weight="normal" >Heteroepitaxial</text>
<line x1="513.80" y1="237.20" x2="513.80" y2="232.80" stroke="#1e1e1e" stroke-width="1.0"/>
<line x1="554.05" y1="237.20" x2="554.05" y2="232.80" stroke="#1e1e1e" stroke-width="1.0"/>
<line x1="594.30" y1="237.20" x2="594.30" y2="232.80" stroke="#1e1e1e" stroke-width="1.0"/>
<line x1="634.55" y1="237.20" x2="634.55" y2="232.80" stroke="#1e1e1e" stroke-width="1.0"/>
<line x1="674.80" y1="237.20" x2="674.80" y2="232.80" stroke="#1e1e1e" stroke-width="1.0"/>
<line x1="533.92" y1="237.20" x2="533.92" y2="234.80" stroke="#1e1e1e" stroke-width="1.0"/>
<line x1="574.17" y1="237.20" x2="574.17" y2="234.80" stroke="#1e1e1e" stroke-width="1.0"/>
<line x1="614.42" y1="237.20" x2="614.42" y2="234.80" stroke="#1e1e1e" stroke-width="1.0"/>
<line x1="654.67" y1="237.20" x2="654.67" y2="234.80" stroke="#1e1e1e" stroke-width="1.0"/>
<text transform="translate(672.70,182.00) scale(1,1.06)" font-size="13.45" text-anchor="end" font-weight="normal" >Substrate</text>
<line x1="513.80" y1="311.10" x2="513.80" y2="306.70" stroke="#1e1e1e" stroke-width="1.0"/>
<line x1="554.05" y1="311.10" x2="554.05" y2="306.70" stroke="#1e1e1e" stroke-width="1.0"/>
<line x1="594.30" y1="311.10" x2="594.30" y2="306.70" stroke="#1e1e1e" stroke-width="1.0"/>
<line x1="634.55" y1="311.10" x2="634.55" y2="306.70" stroke="#1e1e1e" stroke-width="1.0"/>
<line x1="674.80" y1="311.10" x2="674.80" y2="306.70" stroke="#1e1e1e" stroke-width="1.0"/>
<line x1="533.92" y1="311.10" x2="533.92" y2="308.70" stroke="#1e1e1e" stroke-width="1.0"/>
<line x1="574.17" y1="311.10" x2="574.17" y2="308.70" stroke="#1e1e1e" stroke-width="1.0"/>
<line x1="614.42" y1="311.10" x2="614.42" y2="308.70" stroke="#1e1e1e" stroke-width="1.0"/>
<line x1="654.67" y1="311.10" x2="654.67" y2="308.70" stroke="#1e1e1e" stroke-width="1.0"/>
<text transform="translate(672.70,256.20) scale(1,1.06)" font-size="13.45" text-anchor="end" font-weight="normal" >Total</text>
<text transform="translate(513.80,326.90) scale(1,1.05)" font-size="13.2" text-anchor="middle" font-weight="normal" >550</text>
<text transform="translate(554.05,326.90) scale(1,1.05)" font-size="13.2" text-anchor="middle" font-weight="normal" >575</text>
<text transform="translate(594.30,326.90) scale(1,1.05)" font-size="13.2" text-anchor="middle" font-weight="normal" >600</text>
<text transform="translate(634.55,326.90) scale(1,1.05)" font-size="13.2" text-anchor="middle" font-weight="normal" >625</text>
<text transform="translate(674.80,326.90) scale(1,1.05)" font-size="13.2" text-anchor="middle" font-weight="normal" >650</text>
<line x1="37.50" y1="42.35" x2="41.70" y2="42.35" stroke="#1e1e1e" stroke-width="1.0"/>
<text transform="translate(32.60,46.45) scale(1,1.05)" font-size="13.4" text-anchor="end" font-weight="normal" >20</text>
<line x1="37.50" y1="53.90" x2="39.70" y2="53.90" stroke="#1e1e1e" stroke-width="1.0"/>
<line x1="37.50" y1="65.30" x2="41.70" y2="65.30" stroke="#1e1e1e" stroke-width="1.0"/>
<text transform="translate(32.60,69.40) scale(1,1.05)" font-size="13.4" text-anchor="end" font-weight="normal" >10</text>
<line x1="37.50" y1="109.90" x2="41.70" y2="109.90" stroke="#1e1e1e" stroke-width="1.0"/>
<text transform="translate(32.60,114.00) scale(1,1.05)" font-size="13.4" text-anchor="end" font-weight="normal" >20</text>
<line x1="37.50" y1="123.20" x2="39.70" y2="123.20" stroke="#1e1e1e" stroke-width="1.0"/>
<line x1="37.50" y1="136.50" x2="41.70" y2="136.50" stroke="#1e1e1e" stroke-width="1.0"/>
<text transform="translate(32.60,140.60) scale(1,1.05)" font-size="13.4" text-anchor="end" font-weight="normal" >10</text>
<line x1="37.50" y1="190.30" x2="41.70" y2="190.30" stroke="#1e1e1e" stroke-width="1.0"/>
<text transform="translate(32.60,194.40) scale(1,1.05)" font-size="13.4" text-anchor="end" font-weight="normal" >20</text>
<line x1="37.50" y1="202.10" x2="39.70" y2="202.10" stroke="#1e1e1e" stroke-width="1.0"/>
<line x1="37.50" y1="213.80" x2="41.70" y2="213.80" stroke="#1e1e1e" stroke-width="1.0"/>
<text transform="translate(32.60,217.90) scale(1,1.05)" font-size="13.4" text-anchor="end" font-weight="normal" >10</text>
<line x1="37.50" y1="258.50" x2="41.70" y2="258.50" stroke="#1e1e1e" stroke-width="1.0"/>
<text transform="translate(32.60,262.60) scale(1,1.05)" font-size="13.4" text-anchor="end" font-weight="normal" >50</text>
<line x1="37.50" y1="274.20" x2="39.70" y2="274.20" stroke="#1e1e1e" stroke-width="1.0"/>
<line x1="37.50" y1="290.00" x2="41.70" y2="290.00" stroke="#1e1e1e" stroke-width="1.0"/>
<text transform="translate(32.60,294.10) scale(1,1.05)" font-size="13.4" text-anchor="end" font-weight="normal" >20</text>
<line x1="269.50" y1="42.10" x2="273.70" y2="42.10" stroke="#1e1e1e" stroke-width="1.0"/>
<text transform="translate(264.60,46.20) scale(1,1.05)" font-size="13.4" text-anchor="end" font-weight="normal" >20</text>
<line x1="269.50" y1="60.50" x2="271.70" y2="60.50" stroke="#1e1e1e" stroke-width="1.0"/>
<line x1="269.50" y1="78.90" x2="273.70" y2="78.90" stroke="#1e1e1e" stroke-width="1.0"/>
<text transform="translate(264.60,83.00) scale(1,1.05)" font-size="13.4" text-anchor="end" font-weight="normal" >0</text>
<line x1="269.50" y1="116.30" x2="273.70" y2="116.30" stroke="#1e1e1e" stroke-width="1.0"/>
<text transform="translate(264.60,120.40) scale(1,1.05)" font-size="13.4" text-anchor="end" font-weight="normal" >20</text>
<line x1="269.50" y1="134.70" x2="271.70" y2="134.70" stroke="#1e1e1e" stroke-width="1.0"/>
<line x1="269.50" y1="153.10" x2="273.70" y2="153.10" stroke="#1e1e1e" stroke-width="1.0"/>
<text transform="translate(264.60,157.20) scale(1,1.05)" font-size="13.4" text-anchor="end" font-weight="normal" >0</text>
<line x1="269.50" y1="190.50" x2="273.70" y2="190.50" stroke="#1e1e1e" stroke-width="1.0"/>
<text transform="translate(264.60,194.60) scale(1,1.05)" font-size="13.4" text-anchor="end" font-weight="normal" >20</text>
<line x1="269.50" y1="208.90" x2="271.70" y2="208.90" stroke="#1e1e1e" stroke-width="1.0"/>
<line x1="269.50" y1="227.30" x2="273.70" y2="227.30" stroke="#1e1e1e" stroke-width="1.0"/>
<text transform="translate(264.60,231.40) scale(1,1.05)" font-size="13.4" text-anchor="end" font-weight="normal" >0</text>
<line x1="269.50" y1="264.60" x2="273.70" y2="264.60" stroke="#1e1e1e" stroke-width="1.0"/>
<text transform="translate(264.60,268.70) scale(1,1.05)" font-size="13.4" text-anchor="end" font-weight="normal" >20</text>
<line x1="269.50" y1="283.00" x2="271.70" y2="283.00" stroke="#1e1e1e" stroke-width="1.0"/>
<line x1="269.50" y1="301.40" x2="273.70" y2="301.40" stroke="#1e1e1e" stroke-width="1.0"/>
<text transform="translate(264.60,305.50) scale(1,1.05)" font-size="13.4" text-anchor="end" font-weight="normal" >0</text>
<line x1="505.90" y1="34.80" x2="510.10" y2="34.80" stroke="#1e1e1e" stroke-width="1.0"/>
<text transform="translate(500.30,38.90) scale(1,1.05)" font-size="13.4" text-anchor="end" font-weight="normal" >80</text>
<line x1="505.90" y1="54.60" x2="508.10" y2="54.60" stroke="#1e1e1e" stroke-width="1.0"/>
<line x1="505.90" y1="74.30" x2="510.10" y2="74.30" stroke="#1e1e1e" stroke-width="1.0"/>
<text transform="translate(500.30,78.40) scale(1,1.05)" font-size="13.4" text-anchor="end" font-weight="normal" >0</text>
<line x1="505.90" y1="115.30" x2="510.10" y2="115.30" stroke="#1e1e1e" stroke-width="1.0"/>
<text transform="translate(500.30,119.40) scale(1,1.05)" font-size="13.4" text-anchor="end" font-weight="normal" >80</text>
<line x1="505.90" y1="132.80" x2="508.10" y2="132.80" stroke="#1e1e1e" stroke-width="1.0"/>
<line x1="505.90" y1="150.20" x2="510.10" y2="150.20" stroke="#1e1e1e" stroke-width="1.0"/>
<text transform="translate(500.30,154.30) scale(1,1.05)" font-size="13.4" text-anchor="end" font-weight="normal" >0</text>
<line x1="505.90" y1="189.20" x2="510.10" y2="189.20" stroke="#1e1e1e" stroke-width="1.0"/>
<text transform="translate(500.30,193.30) scale(1,1.05)" font-size="13.4" text-anchor="end" font-weight="normal" >80</text>
<line x1="505.90" y1="206.70" x2="508.10" y2="206.70" stroke="#1e1e1e" stroke-width="1.0"/>
<line x1="505.90" y1="224.10" x2="510.10" y2="224.10" stroke="#1e1e1e" stroke-width="1.0"/>
<text transform="translate(500.30,228.20) scale(1,1.05)" font-size="13.4" text-anchor="end" font-weight="normal" >0</text>
<line x1="505.90" y1="263.40" x2="510.10" y2="263.40" stroke="#1e1e1e" stroke-width="1.0"/>
<text transform="translate(500.30,267.50) scale(1,1.05)" font-size="13.4" text-anchor="end" font-weight="normal" >80</text>
<line x1="505.90" y1="280.90" x2="508.10" y2="280.90" stroke="#1e1e1e" stroke-width="1.0"/>
<line x1="505.90" y1="298.30" x2="510.10" y2="298.30" stroke="#1e1e1e" stroke-width="1.0"/>
<text transform="translate(500.30,302.40) scale(1,1.05)" font-size="13.4" text-anchor="end" font-weight="normal" >0</text>
<text x="126.00" y="341.40" font-size="13.4" text-anchor="middle" font-weight="normal" >Wavelength (nm)</text>
<text x="357.80" y="341.20" font-size="13.55" text-anchor="middle" font-weight="normal" >ZPL position (nm)</text>
<text x="594.20" y="341.20" font-size="13.55" text-anchor="middle" font-weight="normal" >ZPL position (nm)</text>
<text x="0" y="0" font-size="13.2" text-anchor="middle" transform="translate(9.4,169.3) rotate(-90)">Occurence (counts)</text>
<text x="0" y="0" font-size="13.45" text-anchor="middle" transform="translate(244.1,166.0) rotate(-90)">FWHM (nm)</text>
<text x="0" y="0" font-size="13.6" text-anchor="middle" transform="translate(479.5,164.4) rotate(-90)">ZPL-PSB energy (meV)</text>
<text transform="translate(6.60,10.60) scale(1,1.07)" font-size="17.2" text-anchor="start" font-weight="bold" >a</text>
<text x="235.60" y="12.60" font-size="16.5" text-anchor="start" font-weight="bold" >b</text>
<text x="471.30" y="9.50" font-size="16.8" text-anchor="start" font-weight="bold" >c</text>
</svg>
</body></html>
